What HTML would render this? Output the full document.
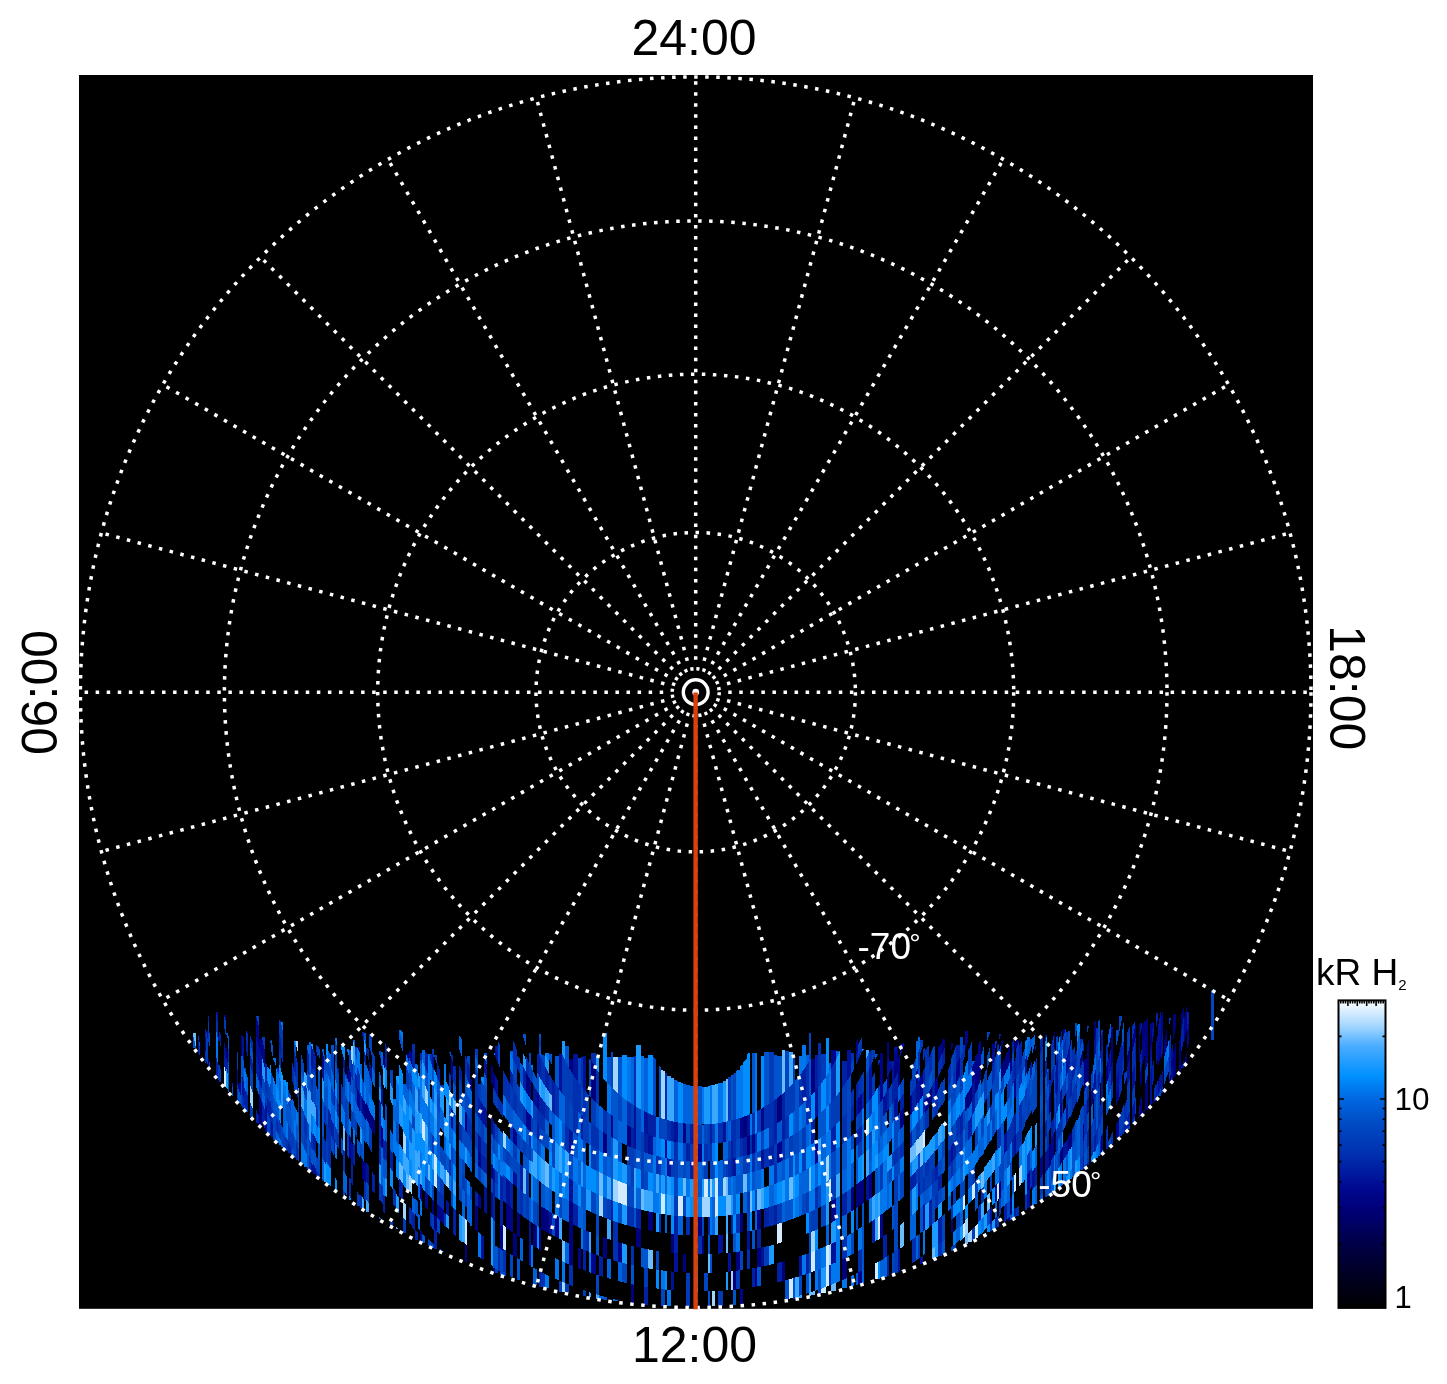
<!DOCTYPE html><html><head><meta charset="utf-8"><title>Polar projection</title>
<style>html,body{margin:0;padding:0;background:#fff}svg{display:block}text{font-family:"Liberation Sans",Arial,Helvetica,sans-serif}</style></head><body>
<svg width="1447" height="1384" viewBox="0 0 1447 1384">
<defs><linearGradient id="cb" x1="0" y1="0" x2="0" y2="1">
<stop offset="0" stop-color="#ffffff"/>
<stop offset="0.08" stop-color="#a8d8ff"/>
<stop offset="0.15" stop-color="#48acff"/>
<stop offset="0.245" stop-color="#0090ff"/>
<stop offset="0.32" stop-color="#0068e0"/>
<stop offset="0.415" stop-color="#0046c0"/>
<stop offset="0.5" stop-color="#0030b0"/>
<stop offset="0.61" stop-color="#000890"/>
<stop offset="0.68" stop-color="#000078"/>
<stop offset="0.79" stop-color="#000048"/>
<stop offset="0.905" stop-color="#000020"/>
<stop offset="1" stop-color="#000000"/>
</linearGradient></defs>
<rect x="0" y="0" width="1447" height="1384" fill="#fff"/>
<rect x="79" y="75" width="1234" height="1233.8" fill="#000"/>
<g shape-rendering="crispEdges"><path fill="#00027d" d="M208 1056.7L209 1060.7V1067L208 1067ZM226 1044.1L228 1052.7V1064.1L226 1056.3ZM241 1034.8L242 1034.8V1057.9L241 1053.9ZM259 1039.2L262 1039.2V1058.1L259 1046ZM259 1094L262 1102.5V1122.6L259 1115.2ZM259 1115.2L262 1122.6V1126.2L259 1126.2ZM347 1064.9L349 1071.1V1083.6L347 1078.1ZM357 1046.5L360 1046.5V1052.7L357 1046.5ZM362 1158.4L364 1161.6V1181L362 1178.1ZM364 1100.3L366 1104.8V1120.7L364 1116.6ZM366 1102L369 1108.7V1124.1L366 1118.1ZM369 1110L372 1116.3V1131L369 1125.4ZM372 1115.3L375 1121.3V1135.6L372 1130.1ZM381 1125.5L383 1129.2V1149.2L381 1145.9ZM383 1055.3L385 1058.3V1069.5L383 1063.5ZM432 1199.1L434 1201.3V1215.5L432 1213.4ZM434 1214.4L437 1217.4V1231.9L434 1229ZM465 1110.7L467 1114V1132.3L465 1129.4ZM465 1243.8L467 1245.4V1262L465 1262ZM470 1079L472 1079V1092.1L470 1088.2ZM475 1204.2L478 1206.9V1232.3L475 1229.9ZM491 1063.7L493 1068.4V1085.6L491 1081.8ZM493 1070.7L495 1075V1091.2L493 1087.5ZM493 1267.2L495 1268.5V1272.5L493 1272.5ZM506 1203.2L510 1206.4V1230.4L506 1227.5ZM513 1232.4L517 1235.1V1257.8L513 1255.3ZM517 1211.9L520 1214V1237.3L517 1235.3ZM526 1072L529 1077.6V1096.8L526 1092.2ZM533 1223.4L537 1226V1248.1L533 1245.8ZM539 1227.6L541 1228.8V1250.8L539 1249.7ZM541 1206.2L545 1208.8V1231.1L541 1228.8ZM545 1208.8L549 1211.3V1233.4L545 1231.2ZM569 1058.8L573 1058.8V1074.5L569 1067.9ZM569 1200.8L573 1203V1224.5L569 1222.5ZM569 1222.5L573 1224.5V1245.4L569 1243.6ZM569 1243.6L573 1245.4V1266L569 1264.3ZM591 1060.2L596 1068.4V1102.3L591 1097.3ZM603 1131.9L607 1134.5V1155.4L603 1153.1ZM603 1237.2L607 1238.6V1258.4L603 1257.1ZM627 1125.1L631 1127.2V1147.2L627 1145.4ZM631 1284.1L634 1284.7V1303.2L631 1303.1ZM636 1227.7L641 1228.9V1248L636 1246.9ZM648 1211.3L653 1212.3V1231.3L648 1230.4ZM671 1234L674 1234.3V1253L671 1252.7ZM683 1123.3L686 1123.7V1143.3L683 1143ZM683 1253.7L686 1253.8V1272.5L683 1272.3ZM698 1217H702V1235.6H698ZM702 1235.6H704V1254.2H702ZM733 1271.1L736 1270.7V1289.5L733 1289.8ZM736 1252L740 1251.4V1270.2L736 1270.7ZM740 1213.7L743 1213.2V1232.1L740 1232.6ZM743 1117L747 1115.5V1136.6L743 1137.9ZM747 1136.6L750 1135.6V1154.4L747 1155.2ZM755 1267.9L757 1267.6V1286.5L755 1286.9ZM757 1248.6L761 1247.7V1266.8L757 1267.6ZM777 1098.2L782 1094.1V1120.1L777 1123.1ZM782 1261.8L785 1261V1280.4L782 1281.2ZM811 1058.5L815 1058.5V1091.4L811 1095.9ZM842 1259.6L847 1257.1V1278.1L842 1280.3ZM851 1188.5L854 1186.4V1209.6L851 1211.5ZM856 1184.8L858 1183.3V1206.8L856 1208.1ZM858 1183.3L862 1180.3V1204.1L858 1206.8ZM862 1180.5L864 1178.9V1202.9L862 1204.3ZM869 1175.2L872 1172.7V1197.4L869 1199.6ZM880 1053.4L883 1053.4V1054.6L880 1061.8ZM887 1042.2L889 1042.2V1057L887 1061.8ZM887 1077.7L889 1073.8V1088.1L887 1091.5ZM894 1068.2L898 1058.9V1071.8L894 1079.9ZM898 1071.9L900 1067.6V1084.5L898 1088.2ZM900 1112.9L904 1106.9V1124.6L900 1129.8ZM910 1097.1L912 1093.7V1113.2L910 1116.1ZM929 1092.4L932 1086.5V1101.3L929 1106.4ZM942 1039L945 1039V1046L942 1055.3ZM951 1043.3L953 1043.3V1045.1L951 1051.6ZM951 1220.5L953 1218.6V1231.9L951 1233.7ZM965 1097.8L968 1091.6V1106.8L965 1112.3ZM968 1093.5L972 1084.8V1100.9L968 1108.6ZM975 1076.9L978 1069.2V1087.5L975 1094ZM978 1067.6L981 1059.1V1079.1L978 1086.1ZM999 1183.2L1001 1180.6V1197.6L999 1200ZM1001 1040.7L1004 1040.7V1040.7L1001 1050.2ZM1001 1067.3L1004 1058.3V1074.3L1001 1082ZM1004 1061.1L1007 1051.5V1068.5L1004 1076.7ZM1007 1054L1010 1043.4V1062L1007 1070.7ZM1007 1220L1010 1216.5V1221.1L1007 1221.1ZM1010 1199L1012 1196.5V1213.1L1010 1215.4ZM1014 1043.8L1016 1038V1046.5L1014 1053.6ZM1016 1040.1L1019 1040.1V1040.1L1016 1049.3ZM1049 1097L1051 1092V1110.6L1049 1115ZM1049 1146.4L1051 1142.9V1164.2L1049 1167.4ZM1054 1033.2L1055 1031.2V1047L1054 1050.8ZM1055 1129.7L1056 1127.7V1150.7L1055 1152.4ZM1060 1151.5L1062 1147.9V1162.3L1060 1165.7ZM1062 1148L1063 1146.2V1160.7L1062 1162.4ZM1068 1136.6L1070 1132.7V1148.3L1068 1151.9ZM1070 1134.8L1072 1130.7V1146.5L1070 1150.2ZM1080 1060.1L1083 1049V1059.6L1080 1069.7ZM1084 1058.9L1087 1058.9V1066.2L1084 1075.8ZM1084 1075.8L1087 1066.2V1084.1L1084 1092.4ZM1087 1046.8L1089 1038.4V1060.8L1087 1067.6ZM1087 1067.6L1089 1060.8V1079.4L1087 1085.2ZM1094 1021L1096 1021V1033.1L1094 1042.1ZM1106 1067.3L1108 1060.3V1079.5L1106 1085.5ZM1111 1034.3L1113 1027.2V1038.3L1111 1046.9ZM1111 1046.9L1113 1038.3V1061.3L1111 1068.3ZM1127 1057.4L1130 1045.3V1056.9L1127 1067.8ZM1132 1041.4L1135 1026.8V1040.8L1132 1053.4ZM1135 1025.9L1136 1024V1035.3L1135 1039.9ZM1139 1024L1140 1023.6V1041.7L1139 1046.1ZM1139 1046.1L1140 1041.7V1060.5L1139 1064.2ZM1140 1072.7L1142 1065.7V1081.3L1140 1087.5ZM1142 1026.6L1145 1020.4V1034.6L1142 1048.1ZM1142 1113.2L1145 1108.8V1113.2L1142 1113.2ZM1145 1023.2L1148 1016.7V1027.6L1145 1042.2ZM1145 1042.2L1148 1027.6V1045.8L1145 1058.1ZM1145 1058.1L1148 1045.8V1061.2L1145 1072ZM1145 1084.6L1148 1074.9V1098.7L1145 1107ZM1145 1107L1148 1098.7V1110L1145 1110ZM1150 1039.6L1152 1029.9V1043.6L1150 1052.1ZM1164 1042.3L1167 1027.5V1046L1164 1058.4ZM1169 1080.4L1171 1073.7V1083.2L1169 1083.2ZM1171 1063.2L1173 1055.4V1066.5L1171 1073.7ZM1173 1013.5L1176 1013.5V1013.5L1173 1027.4ZM1173 1027.4L1176 1013.5V1026.7L1173 1041.7ZM1173 1054.2L1176 1041.1V1053.7L1173 1065.5ZM1173 1065.5L1176 1053.7V1075.4L1173 1077.7ZM1179 1043.4L1181 1033.8V1059.3L1179 1067ZM1181 1016L1184 1006.2V1015.1L1181 1032.2ZM1184 1062.9L1187 1050.7V1063.6L1184 1063.6Z"/><path fill="#00068b" d="M205 1035.5L206 1040.4V1053.3L205 1049ZM224 1014.8L226 1014.8V1021.9L224 1014.8ZM237 1067.7L238 1071.3V1086.7L237 1083.5ZM238 1082.9L241 1082.9V1096.1L238 1087ZM256 1015.8L259 1027.1V1048.5L256 1035ZM262 1038.2L265 1051.2V1068.4L262 1057.5ZM265 1122.1L267 1126.9V1131.6L265 1131.6ZM322 1050.4L324 1057.7V1070.6L322 1064.1ZM349 1067.7L351 1073.7V1085.9L349 1080.5ZM349 1134.4L351 1138.2V1159.9L349 1156.5ZM357 1087.3L360 1094.8V1111.8L357 1105.2ZM362 1096.5L364 1101.2V1117.4L362 1113.3ZM364 1160.9L366 1164.1V1183.3L364 1180.4ZM406 1054.1L409 1054.1V1061.9L406 1054.1ZM409 1049.3L412 1052V1065.4L409 1056.5ZM420 1183.6L422 1186V1201.1L420 1198.8ZM420 1229.4L422 1231.4V1241.8L420 1241.8ZM425 1191.3L428 1194.8V1209.3L425 1206.1ZM437 1203.6L440 1206.7V1220.6L437 1217.6ZM440 1206.8L444 1210.8V1224.4L440 1220.6ZM451 1056.9L453 1062.5V1080.8L451 1076.2ZM478 1149.9L481 1153.5V1168.3L478 1165.1ZM478 1193.3L481 1196.1V1209.2L478 1206.6ZM491 1163.8L493 1165.9V1179.8L491 1177.9ZM500 1225.3L503 1227.5V1251L500 1248.9ZM510 1206.6L513 1208.9V1232.6L510 1230.5ZM513 1127.4L517 1132.2V1146.9L513 1142.6ZM526 1109.7L529 1113.6V1130.3L526 1126.9ZM529 1077.4L531 1080.9V1099.4L529 1096.5ZM529 1113.3L531 1115.9V1132.3L529 1130.1ZM537 1090.9L539 1093.8V1110.3L537 1107.8ZM555 1214.8L559 1217.1V1238.7L555 1236.6ZM578 1247.6L581 1248.9V1269.2L578 1268ZM591 1252.9L596 1254.7V1274.6L591 1272.9ZM611 1114.8L613 1116.3V1138.1L611 1136.9ZM618 1242.2L622 1243.3V1262.7L618 1261.7ZM665 1139.8L667 1140.3V1158.4L665 1158ZM698 1144H702V1161.6H698ZM740 1118L743 1117V1137.9L740 1138.7ZM740 1289L743 1288.6V1304.8L740 1304.8ZM752 1134.9L755 1133.8V1152.8L752 1153.7ZM757 1210.3L761 1209.3V1228.6L757 1229.5ZM761 1108.8L764 1107.1V1129.9L761 1131.3ZM777 1143.8L782 1141.2V1161.2L777 1163.4ZM815 1141.9L818 1139.7V1162.6L815 1164.4ZM831 1050.2L836 1050.2V1059.7L831 1069ZM831 1201.2L836 1198.2V1220.2L831 1222.8ZM856 1043.3L858 1037.1V1050L856 1054.9ZM858 1098.9L862 1093.3V1109.9L858 1114.7ZM858 1272.5L862 1270.5V1284.2L858 1284.2ZM880 1061.8L883 1054.6V1078.9L880 1084.3ZM880 1084.3L883 1078.9V1098.6L880 1103ZM880 1215.6L883 1213.4V1236.8L880 1238.7ZM894 1054.9L898 1047.2V1058.9L894 1068.2ZM898 1059L900 1053.9V1067.6L898 1071.9ZM916 1072.1L918 1067.5V1081.1L916 1085.1ZM920 1078.1L923 1071.5V1094.9L920 1100.2ZM925 1100.4L929 1093.2V1107.1L925 1113.6ZM935 1081.7L938 1075.1V1091.3L935 1097ZM938 1047.9L942 1042.8V1052.8L938 1063.9ZM956 1066.8L960 1055.6V1075.5L956 1084.7ZM965 1031.4L968 1031.1V1041.3L965 1051.6ZM972 1066.9L975 1061.3V1078.3L972 1085.3ZM975 1056.7L978 1052.9V1069.2L975 1076.9ZM978 1045L981 1039.8V1059.1L978 1067.6ZM992 1044.3L995 1043.3V1046.7L992 1056.7ZM1010 1062.9L1012 1056.6V1069.9L1010 1075.5ZM1014 1082.8L1016 1077.6V1095.8L1014 1100.3ZM1027 1174.9L1030 1170.4V1189L1027 1193.1ZM1040 1159.2L1043 1154.2V1174.3L1040 1178.8ZM1051 1139.1L1054 1133.5V1155.8L1051 1160.8ZM1060 1107L1062 1102.3V1115.9L1060 1120.2ZM1063 1029.1L1066 1029.1V1029.1L1063 1037.1ZM1083 1125.3L1084 1123.2V1139.9L1083 1141.8ZM1091 1092.6L1093 1087V1102.7L1091 1107.6ZM1101 1137.2L1103 1133V1149.5L1101 1153.3ZM1116 1093.7L1119 1085.1V1098.4L1116 1106.3ZM1116 1125.4L1119 1118.4V1136.4L1116 1139.2ZM1140 1100.9L1142 1095.3V1115.8L1140 1115.8ZM1142 1048.1L1145 1034.6V1054.6L1142 1066ZM1150 1025.3L1152 1021.8V1029.9L1150 1039.6ZM1152 1022L1154 1022V1022L1152 1030.4ZM1152 1102.9L1154 1097.6V1102.9L1152 1102.9ZM1158 1048.6L1161 1034.9V1055.2L1158 1066.7ZM1161 1016.2L1163 1011.1V1030.7L1161 1040.4ZM1179 1067L1181 1059.3V1070.7L1179 1070.7ZM1184 1019.9L1187 1004.8V1028.8L1184 1043.7ZM1187 1032.3L1189 1021.3V1041.3L1187 1050.3Z"/><path fill="#001298" d="M198 1037.8L199 1042.6V1053.7L198 1053.7ZM206 1031L208 1031V1040.7L206 1031ZM216 1012.2L218 1012.2V1024.3L216 1012.2ZM218 1036.4L219 1036.4V1043L218 1038.2ZM224 1041.1L226 1050.1V1061.7L224 1053.7ZM242 1035.4L244 1038V1062.1L242 1054.3ZM242 1075.6L244 1082.2V1099.8L242 1094ZM256 1035L259 1048.5V1066.3L256 1055ZM259 1046L262 1058.1V1074.5L259 1064.1ZM259 1064.1L262 1074.5V1089.1L259 1079.9ZM265 1102.1L267 1107.4V1126.9L265 1122.1ZM270 1133.4L271 1135.6V1135.9L270 1135.9ZM271 1120.8L273 1125.5V1137.4L271 1137.4ZM311 1044.4L313 1050.7V1070.8L311 1064.2ZM311 1162.1L313 1165.6V1172.2L311 1172.2ZM313 1163.6L316 1168.8V1174.2L313 1174.2ZM322 1064.1L324 1070.6V1082.1L322 1076.3ZM337 1067.9L339 1067.9V1074.1L337 1067.9ZM343 1054.8L345 1061.6V1073L343 1066.9ZM351 1141.6L353 1145.2V1166.2L351 1163ZM366 1162.1L369 1166.7V1185.6L366 1181.3ZM369 1060.8L372 1070V1082.2L369 1074ZM381 1085.1L383 1090V1106.8L381 1102.5ZM432 1052.5L434 1058.6V1070.8L432 1065.5ZM446 1199.5L449 1202.6V1216.3L446 1213.4ZM451 1107.3L453 1110.8V1129.9L451 1126.8ZM478 1133.7L481 1137.6V1153.5L478 1149.9ZM481 1101.5L484 1106.4V1124.8L481 1120.5ZM481 1234.4L484 1236.7V1260.6L481 1258.4ZM484 1057.2L487 1064.8V1078.6L484 1072.2ZM484 1106.1L487 1110.8V1128.6L484 1124.5ZM484 1185.2L487 1188.1V1214.1L484 1211.6ZM491 1116.2L493 1119.1V1135.9L491 1133.3ZM491 1191.4L493 1193.2V1218.6L491 1217ZM493 1167.2L495 1169.3V1182.9L493 1181ZM495 1046L498 1053.8V1063.3L495 1055.7ZM495 1075L498 1081.1V1096.4L495 1091.2ZM506 1177.6L510 1181.2V1206.4L506 1203.2ZM513 1170.6L517 1174.3V1187.1L513 1183.7ZM529 1220.6L531 1221.9V1244.4L529 1243.2ZM529 1243.2L531 1244.4V1266.3L529 1265.2ZM533 1084.7L537 1091V1107.9L533 1102.6ZM549 1211.3L552 1213.1V1235.1L549 1233.4ZM559 1054.1L562 1054.1V1093.2L559 1089.2ZM569 1128.5L573 1132V1156L569 1153.1ZM569 1178.4L573 1180.9V1203L569 1200.8ZM573 1054.1L578 1054.1V1081.8L573 1074.5ZM583 1055.7L586 1055.7V1091.9L583 1088.3ZM634 1105.5L636 1106.7V1129.7L634 1128.7ZM634 1128.7L636 1129.7V1149.3L634 1148.5ZM644 1111.1L648 1113V1134.7L644 1133.1ZM648 1134.7L653 1136.4V1155L648 1153.6ZM667 1158.4L671 1159.1V1176.8L667 1176.2ZM671 1271.4L674 1271.7V1290.4L671 1290.1ZM674 1121.7L678 1122.5V1142.3L674 1141.7ZM674 1253L678 1253.3V1272L674 1271.7ZM718 1235L723 1234.6V1253.3L718 1253.7ZM723 1122.4L726 1121.8V1141.8L723 1142.3ZM728 1252.9L731 1252.6V1271.3L728 1271.6ZM733 1158.5L736 1157.9V1175.7L733 1176.3ZM747 1115.5L750 1114.2V1135.6L747 1136.6ZM747 1231.5L750 1230.9V1249.9L747 1250.4ZM761 1150.7L764 1149.5V1168.4L761 1169.4ZM761 1247.7L764 1247.1V1266.2L761 1266.8ZM799 1256.6L802 1255.6V1275.4L799 1276.4ZM815 1091.4L818 1087.8V1115.8L815 1118.5ZM831 1243.8L836 1241.5V1262.3L831 1264.5ZM847 1049.8L851 1049.8V1074.5L847 1081.1ZM856 1101.7L858 1099V1114.8L856 1117.1ZM866 1177.3L869 1174.9V1199.4L866 1201.5ZM869 1069.3L872 1063V1077.8L869 1083ZM869 1083L872 1077.8V1096.9L869 1101.2ZM883 1098L887 1091.6V1111.5L883 1116.8ZM887 1061.8L889 1057V1073.8L887 1077.7ZM889 1061.1L892 1061.1V1068L889 1074.2ZM892 1068.2L894 1063.7V1079.6L892 1083.4ZM894 1047.2L898 1047.2V1047.2L894 1054.9ZM894 1101.8L898 1095.4V1115.5L894 1120.9ZM898 1249.8L900 1248.5V1271.3L898 1271.9ZM900 1044.5L904 1043.1V1045.8L900 1057ZM916 1085.1L918 1081.1V1102.7L916 1105.9ZM918 1082.3L920 1078.2V1100.3L918 1103.7ZM920 1257.8L923 1255.6V1263.6L920 1263.6ZM923 1205.6L925 1203.7V1229.5L923 1231.1ZM951 1146.4L953 1143.6V1160.2L951 1162.7ZM972 1085.3L975 1078.3V1095.2L972 1101.4ZM990 1209.1L992 1206.8V1222.4L990 1224.5ZM992 1056.7L995 1046.7V1058.8L992 1067.6ZM995 1185.8L997 1183.2V1200L995 1202.3ZM1004 1135.5L1007 1130.3V1149.8L1004 1154.4ZM1014 1137.2L1016 1133.7V1153.3L1014 1156.4ZM1025 1061L1027 1054.4V1071.5L1025 1077.1ZM1027 1193.1L1030 1189V1206.6L1027 1208.7ZM1032 1172L1035 1167.5V1186.4L1032 1190.6ZM1035 1045.7L1037 1045.7V1045.7L1035 1051ZM1045 1034.8L1047 1034.8V1034.8L1045 1043.1ZM1045 1153.4L1047 1149.9V1170.6L1045 1173.7ZM1047 1149.8L1049 1146.3V1167.3L1047 1170.4ZM1056 1064.1L1058 1057.4V1069.2L1056 1075.2ZM1056 1075.2L1058 1069.2V1091.1L1056 1096.1ZM1060 1092.7L1062 1087.4V1102.3L1060 1107ZM1063 1146.3L1066 1140.7V1155.7L1063 1160.9ZM1066 1059.5L1068 1052.4V1071.8L1066 1077.7ZM1066 1108.1L1068 1103.3V1121.3L1066 1125.5ZM1066 1141.5L1068 1137.7V1152.9L1066 1156.4ZM1068 1050.5L1070 1042.6V1063.7L1068 1070.2ZM1087 1100.9L1089 1095.8V1110.5L1087 1115.2ZM1094 1042.1L1096 1033.1V1052.5L1094 1059.9ZM1094 1075.2L1096 1068.8V1083.2L1094 1088.9ZM1100 1050.5L1101 1050.5V1056.6L1100 1060.2ZM1101 1036.6L1103 1030.2V1044.5L1101 1052.5ZM1101 1078.7L1103 1072.5V1095.3L1101 1100.6ZM1108 1060.1L1111 1048.6V1069.7L1108 1079.3ZM1111 1027.2L1113 1027.2V1027.2L1111 1034.3ZM1111 1068.3L1113 1061.3V1080.4L1111 1086.4ZM1116 1080.1L1119 1070.4V1085.1L1116 1093.7ZM1127 1067.8L1130 1056.9V1077.1L1127 1086.4ZM1132 1074.2L1135 1063.8V1083.1L1132 1092.1ZM1132 1108.2L1135 1100.1V1115.5L1132 1122.9ZM1139 1106.9L1140 1104.3V1117.4L1139 1117.4ZM1140 1022.7L1142 1022.7V1026.2L1140 1036.3ZM1150 1052.1L1152 1043.6V1055.6L1150 1063.3ZM1150 1073.5L1152 1066.5V1085.9L1150 1091.9ZM1150 1091.9L1152 1085.9V1103L1150 1105.1ZM1152 1030.4L1154 1022V1034.7L1152 1044ZM1156 1042.9L1158 1033.5V1058.6L1156 1066.1ZM1158 1026.8L1161 1008.7V1034.9L1158 1048.6ZM1158 1082.4L1161 1072.4V1087.7L1158 1095.5ZM1161 1040.4L1163 1030.7V1051.8L1161 1059.8ZM1161 1076.4L1163 1069.5V1085.1L1161 1091.3ZM1171 1051.7L1173 1043V1055.4L1171 1063.2ZM1171 1073.7L1173 1066.5V1080.7L1171 1080.7ZM1181 1067.5L1184 1059.9V1067.5L1181 1067.5Z"/><path fill="#0021a4" d="M205 1029.3L206 1029.3V1040.4L205 1035.5ZM208 1015.9L209 1015.9V1025.2L208 1019.3ZM216 1055.7L218 1063.6V1077.8L216 1077.3ZM219 1031.4L221 1034.5V1047.9L219 1038.7ZM224 1053.7L226 1061.7V1072.4L224 1065.1ZM226 1056.3L228 1064.1V1074.6L226 1067.4ZM232 1082.7L233 1082.7V1088.8L232 1085.7ZM237 1097.8L238 1100.6V1101.9L237 1101.9ZM244 1086.1L246 1092.2V1108.7L244 1103.3ZM246 1037.5L248 1046.6V1058.3L246 1050.3ZM246 1090.8L248 1096.7V1112.2L246 1107.5ZM250 1053.6L253 1065V1075.1L250 1064.6ZM256 1055L259 1066.3V1081.8L256 1071.9ZM256 1109L259 1116.7V1123.1L256 1123.1ZM262 1102L265 1110V1129.1L262 1122.2ZM265 1061.8L267 1065.2V1080.7L265 1074.2ZM267 1096.5L270 1104.7V1119.6L267 1112.2ZM270 1099.3L271 1102V1117.2L270 1114.7ZM279 1031.2L281 1040.6V1056.3L279 1048.4ZM288 1140.8L291 1146.9V1153.4L288 1153.4ZM294 1050L296 1057.6V1077.1L294 1070.7ZM307 1048.3L309 1055.9V1075.3L307 1069ZM313 1046.7L316 1057.8V1076.7L313 1067.3ZM313 1132.5L316 1138.6V1154.2L313 1148.5ZM316 1170.2L318 1173.6V1176.2L316 1176.2ZM328 1108L331 1114.9V1131.8L328 1125.6ZM331 1118.6L334 1125V1141L331 1135.2ZM334 1089.1L335 1091.2V1105.8L334 1103.4ZM334 1137.7L335 1139.6V1154.6L334 1152.8ZM337 1100.1L339 1104.9V1118.3L337 1113.9ZM351 1163L353 1166.2V1185.7L351 1182.7ZM353 1142.3L355 1145.9V1166.8L353 1163.6ZM355 1071.2L357 1076.9V1091.5L355 1086.4ZM360 1092.2L362 1097.1V1113.8L360 1109.5ZM362 1031.7L364 1031.7V1042.7L362 1034.3ZM364 1050L366 1057V1066.9L364 1060.7ZM366 1047.3L369 1048.8V1061.2L366 1051.1ZM372 1171.5L375 1175.9V1194L372 1190ZM379 1098.6L381 1103V1125.9L379 1122.1ZM379 1122.1L381 1125.9V1146.3L379 1143ZM383 1138.3L385 1141.7V1160.7L383 1157.6ZM383 1194.4L385 1196.9V1213.7L383 1211.3ZM385 1040.8L387 1048.3V1060.5L385 1054ZM385 1054L387 1060.5V1071.4L385 1065.6ZM385 1139.3L387 1142.7V1161.5L385 1158.4ZM390 1149.2L393 1153.9V1171.7L390 1167.4ZM399 1178.4L403 1183.6V1200.4L399 1195.5ZM412 1048.6L415 1058.3V1073.8L412 1065.7ZM412 1211.8L415 1215.1V1230.2L412 1227.1ZM415 1229.1L418 1232.1V1239.5L415 1239.5ZM425 1051.8L428 1054.1V1074.7L425 1066.9ZM434 1229L437 1231.9V1245.9L434 1243.2ZM434 1243.2L437 1245.9V1248.8L434 1248.8ZM437 1062L440 1070V1083.5L437 1076.5ZM453 1066.4L456 1066.4V1070.4L453 1066.4ZM453 1207.4L456 1210.3V1236.5L453 1233.9ZM459 1064.5L462 1072V1084.7L459 1078.2ZM467 1060.3L470 1067.9V1084.8L467 1078.5ZM475 1190.7L478 1193.6V1206.9L475 1204.2ZM478 1096.3L481 1101.6V1120.6L478 1116.1ZM481 1153.4L484 1156.9V1171.5L481 1168.3ZM484 1156.6L487 1160V1174.3L484 1171.2ZM493 1120.6L495 1123.4V1139.7L493 1137.3ZM493 1181L495 1182.9V1196.1L493 1194.4ZM493 1194.4L495 1196.1V1221.3L493 1219.7ZM495 1046L498 1046V1053.8L495 1046ZM500 1174.3L503 1177.2V1203.1L500 1200.6ZM500 1200.6L503 1203.1V1227.5L500 1225.3ZM510 1069.4L513 1075.5V1089.5L510 1084.3ZM510 1181.3L513 1184V1208.9L510 1206.6ZM520 1164L523 1166.8V1192.2L520 1189.8ZM523 1065.6L526 1071.8V1092L523 1087.2ZM537 1053.6L539 1053.6V1075.3L537 1071.6ZM537 1123.1L539 1125.4V1140.7L537 1138.7ZM539 1053.4L541 1058.1V1079.7L539 1076.2ZM539 1094.6L541 1097.5V1113.5L539 1111ZM539 1271.2L541 1272.2V1286.5L539 1286.5ZM541 1097.4L545 1102.7V1118.1L541 1113.4ZM545 1066.4L549 1073.8V1091.9L545 1086ZM552 1078.8L555 1083.5V1114.6L552 1111.2ZM573 1203L578 1205.7V1226.9L573 1224.5ZM581 1114.3L583 1116.1V1140L581 1138.5ZM583 1249.7L586 1250.9V1271.1L583 1269.9ZM599 1255.8L603 1257.1V1276.8L599 1275.5ZM611 1200L613 1200.8V1220.8L611 1220.1ZM631 1127.2L634 1128.7V1148.5L631 1147.2ZM636 1208.3L641 1209.6V1228.9L636 1227.7ZM644 1133.1L648 1134.7V1153.6L644 1152.2ZM644 1286.6L648 1287.2V1304.5L644 1304.5ZM648 1113L653 1115.2V1136.4L648 1134.7ZM653 1115.2L656 1116.4V1137.4L653 1136.4ZM671 1121L674 1121.7V1141.7L671 1141.1ZM674 1215.6L678 1216V1234.7L674 1234.3ZM674 1234.3L678 1234.7V1253.3L674 1253ZM686 1143.3L690 1143.6V1161.3L686 1161ZM690 1124.1L694 1124.3V1143.9L690 1143.6ZM690 1161.3L694 1161.5V1178.9L690 1178.7ZM694 1216.9L698 1217V1235.6L694 1235.5ZM708 1216.9L710 1216.8V1235.4L708 1235.5ZM710 1124.1L712 1124V1143.5L710 1143.7ZM731 1140.9L733 1140.4V1158.5L731 1158.9ZM731 1158.9L733 1158.5V1176.3L731 1176.6ZM731 1215.1L733 1214.8V1233.6L731 1233.8ZM743 1137.9L747 1136.6V1155.2L743 1156.3ZM752 1268.5L755 1267.9V1286.9L752 1287.3ZM757 1229.5L761 1228.6V1247.7L757 1248.6ZM764 1208.5L769 1207.1V1226.5L764 1227.8ZM769 1147.5L774 1145.2V1164.6L769 1166.6ZM774 1100.5L777 1098.2V1123.1L774 1124.8ZM774 1124.8L777 1123.1V1143.8L774 1145.2ZM774 1205.5L777 1204.6V1224.3L774 1225.2ZM777 1263.1L782 1261.8V1281.2L777 1282.4ZM782 1094.1L785 1091.4V1118.1L782 1120.1ZM782 1120.1L785 1118.1V1139.6L782 1141.2ZM802 1072.2L806 1066.3V1101L802 1104.7ZM806 1254.2L809 1253.1V1273.1L806 1274.1ZM811 1121.9L815 1118.5V1141.9L811 1144.7ZM815 1055.3L818 1055.3V1087.8L815 1091.4ZM831 1129.1L836 1124.4V1149.7L831 1153.5ZM842 1060.6L847 1060.6V1081.2L842 1088.6ZM842 1194.5L847 1191.3V1213.9L842 1216.8ZM851 1108.2L854 1104.5V1119.6L851 1122.8ZM856 1054.9L858 1050V1060.6L856 1064.8ZM856 1084.7L858 1081.5V1099L856 1101.7ZM856 1131.4L858 1129.3V1144.3L856 1146.1ZM858 1129.3L862 1125V1140.4L858 1144.2ZM862 1093.6L864 1090.6V1107.6L862 1110.1ZM872 1220.9L875 1218.9V1241.7L872 1243.6ZM883 1236.4L887 1233.7V1256.5L883 1258.9ZM887 1091.5L889 1088.1V1108.5L887 1111.3ZM887 1256.4L889 1255.2V1275.7L887 1275.7ZM892 1060.9L894 1060.9V1063.7L892 1068.2ZM892 1083.4L894 1079.6V1101.6L892 1104.7ZM894 1079.9L898 1071.8V1095.4L894 1101.8ZM900 1099.5L904 1092.8V1106.9L900 1112.9ZM910 1133.3L912 1130.6V1146.6L910 1149ZM910 1177.8L912 1175.8V1189.5L910 1191.4ZM912 1093.4L916 1086V1106.7L912 1112.9ZM912 1175.6L916 1171.6V1185.5L912 1189.3ZM918 1183.7L920 1181.7V1195.3L918 1197.2ZM923 1071.1L925 1066.4V1083.3L923 1087.3ZM923 1101.6L925 1098.1V1111.5L923 1114.6ZM929 1201.1L932 1198.2V1224.5L929 1227.1ZM932 1086.3L935 1080V1095.6L932 1101ZM935 1167.3L938 1163.8V1178.7L935 1182ZM938 1177.7L942 1173.2V1187.8L938 1192ZM938 1219L942 1215.4V1241.2L938 1244.6ZM942 1055.3L945 1046V1062.6L942 1070.2ZM948 1151.9L951 1147.9V1164.1L948 1167.8ZM953 1144L956 1139.8V1156.7L953 1160.6ZM956 1044.8L960 1044.8V1055.6L956 1066.8ZM960 1116.7L963 1111.4V1131.2L960 1135.8ZM968 1122.3L972 1115.4V1135L968 1141.2ZM972 1101.4L975 1095.2V1110.4L972 1115.8ZM995 1218.2L997 1216V1228.2L995 1228.2ZM999 1034.2L1001 1034.2V1034.2L999 1041.3ZM1004 1206.3L1007 1202.7V1218.9L1004 1222.3ZM1012 1043.3L1014 1038.2V1049.3L1012 1056.1ZM1012 1140L1014 1136.6V1155.9L1012 1158.9ZM1014 1062.4L1016 1056V1077.6L1014 1082.8ZM1014 1116L1016 1112V1133.7L1014 1137.2ZM1014 1209.9L1016 1207.5V1217.2L1014 1217.2ZM1019 1046.2L1022 1040.5V1060.7L1019 1069.7ZM1030 1066.9L1032 1060.6V1073.9L1030 1079.4ZM1030 1206.8L1032 1204.3V1207.1L1030 1207.1ZM1035 1168.3L1037 1165.2V1184.4L1035 1187.2ZM1040 1046.6L1043 1038.2V1045.5L1040 1056.3ZM1045 1062.4L1047 1055.7V1073L1045 1078.7ZM1045 1123.3L1047 1119.2V1135.1L1045 1138.9ZM1049 1079.7L1051 1079.7V1079.7L1049 1082.8ZM1049 1082.8L1051 1079.7V1092L1049 1097ZM1051 1074.9L1054 1065.8V1078.9L1051 1087ZM1051 1123.4L1054 1117.1V1133.5L1051 1139.1ZM1055 1073.5L1056 1070.5V1092.1L1055 1094.6ZM1060 1037.9L1062 1028.8V1040.9L1060 1048.8ZM1070 1084.3L1072 1078.6V1094.6L1070 1099.7ZM1072 1067.2L1075 1057V1072.3L1072 1081.2ZM1083 1157.2L1084 1155.3V1168.9L1083 1168.9ZM1084 1167.3L1087 1162.9V1167.3L1084 1167.3ZM1087 1132.6L1089 1128.4V1144.8L1087 1148.7ZM1087 1163.7L1089 1160.1V1165.2L1087 1165.2ZM1093 1084.9L1094 1081.9V1098.1L1093 1100.7ZM1094 1088.9L1096 1083.2V1096.2L1094 1101.4ZM1094 1137.5L1096 1133.4V1149.6L1094 1153.4ZM1098 1076.6L1100 1070.3V1084.6L1098 1090.2ZM1100 1141.6L1101 1139.6V1154.6L1100 1154.6ZM1101 1052.5L1103 1044.5V1059.4L1101 1066.4ZM1106 1045.9L1108 1043.6V1049.4L1106 1057.1ZM1106 1146.5L1108 1142.5V1148.8L1106 1148.8ZM1116 1064.9L1119 1053.9V1070.4L1116 1080.1ZM1119 1053.6L1122 1041.2V1059.7L1119 1070.2ZM1119 1070.2L1122 1059.7V1075.6L1119 1084.9ZM1122 1048.5L1124 1039.9V1055.7L1122 1063.1ZM1124 1126.3L1127 1119.2V1131.5L1124 1131.5ZM1127 1117.9L1130 1110.4V1124.9L1127 1128.6ZM1135 1039.9L1136 1035.3V1059.5L1135 1063.2ZM1140 1055.9L1142 1047.8V1065.7L1140 1072.7ZM1150 1063.3L1152 1055.6V1066.5L1150 1073.5ZM1152 1066.9L1154 1059.4V1079.8L1152 1086.2ZM1156 1013L1158 1013V1017.9L1156 1029.1ZM1156 1085.6L1158 1079.2V1097.1L1156 1098.4ZM1169 1056.5L1171 1048.2V1061.6L1169 1069ZM1181 1032.2L1184 1015.1V1040L1181 1053.4ZM1187 1011.8L1189 1011.8V1021.3L1187 1032.3Z"/><path fill="#0030b0" d="M199 1043.9L200 1048.4V1055L199 1055ZM205 1049L206 1053.3V1063.1L205 1061ZM216 1012.2L218 1024.3V1039.1L216 1029ZM228 1046.6L229 1050.9V1064L228 1060.2ZM242 1094L244 1099.8V1107.9L242 1107.9ZM246 1030.2L248 1033.4V1046.6L246 1037.5ZM250 1035.1L253 1041.9V1054.1L250 1041.3ZM265 1074.2L267 1080.7V1094.6L265 1088.8ZM270 1114.7L271 1117.2V1135.6L270 1133.4ZM271 1105.9L273 1111.1V1125.5L271 1120.8ZM276 1068.1L279 1068.1V1075.1L276 1068.1ZM276 1115.7L279 1122.9V1136.3L276 1129.7ZM279 1048.4L281 1056.3V1070L279 1063.1ZM281 1040.7L283 1049.1V1063.7L281 1056.3ZM286 1137.3L288 1141.5V1151.2L286 1151.2ZM292 1061.5L294 1068.4V1086.4L292 1080.5ZM294 1152.7L296 1156.5V1158.1L294 1158.1ZM296 1056.4L298 1063.6V1082.2L296 1076ZM296 1139.8L298 1143.9V1159.6L296 1155.8ZM296 1155.8L298 1159.6V1159.8L296 1159.8ZM298 1091.5L299 1094.2V1114.1L298 1111.7ZM304 1113.4L307 1120.4V1137.6L304 1131.3ZM309 1155.1L311 1158.7V1170.6L309 1170.6ZM311 1064.2L313 1070.8V1088.1L311 1082.4ZM311 1130.6L313 1134.8V1150.7L311 1146.9ZM316 1105.2L318 1110V1127.8L316 1123.5ZM318 1171.3L320 1174.7V1177.7L318 1177.7ZM322 1178.2L324 1180.8V1180.8L322 1180.8ZM324 1103.4L326 1108.2V1125.9L324 1121.6ZM324 1138.2L326 1142.1V1164.4L324 1161ZM326 1121.8L328 1126V1142.2L326 1138.3ZM326 1181.7L328 1183.8V1183.8L326 1183.8ZM328 1125.6L331 1131.8V1147.5L328 1141.8ZM328 1141.8L331 1147.5V1169.1L328 1164.1ZM334 1089.1L335 1089.1V1091.2L334 1089.1ZM337 1130.7L339 1134.7V1149.9L337 1146.3ZM343 1148.7L345 1152.2V1173L343 1169.8ZM345 1073.7L347 1073.7V1079.4L345 1073.7ZM349 1176.8L351 1179.8V1198.5L349 1195.7ZM351 1058.7L353 1065.2V1081.2L351 1075.6ZM357 1066.7L360 1075.6V1094.8L357 1087.3ZM360 1194.1L362 1196.9V1207.5L360 1207.5ZM364 1180.4L366 1183.3V1201.3L364 1198.6ZM369 1033.9L372 1033.9V1040.5L369 1033.9ZM379 1143L381 1146.3V1166.2L379 1163.2ZM381 1184.3L383 1187V1204.3L381 1201.7ZM393 1187.4L396 1191.3V1207.9L393 1204.3ZM409 1206.8L412 1210.1V1225.5L409 1222.3ZM412 1043.9L415 1043.9V1058.3L412 1048.6ZM420 1052.9L422 1052.9V1065.4L420 1059.6ZM430 1053.3L432 1054.5V1065.3L430 1059.6ZM430 1211.2L432 1213.3V1228L430 1226ZM437 1189.1L440 1192.4V1206.7L437 1203.6ZM440 1192.4L444 1196.8V1210.8L440 1206.8ZM444 1212.2L446 1214.2V1227.7L444 1225.8ZM449 1158.5L451 1161V1176.5L449 1174.2ZM451 1054.7L453 1054.7V1062.5L451 1056.9ZM453 1066.4L456 1070.4V1087.4L453 1081ZM459 1121.3L462 1125.9V1143.3L459 1139.2ZM465 1054.4L467 1059.3V1077.7L465 1073.2ZM467 1114.6L470 1119.3V1137L467 1132.8ZM470 1122L472 1124.9V1142.1L470 1139.4ZM475 1066.9L478 1073.9V1096.9L475 1091.3ZM475 1091.3L478 1096.9V1116.5L475 1111.9ZM481 1137.6L484 1141.4V1156.9L481 1153.4ZM484 1141.1L487 1144.8V1160L484 1156.6ZM498 1096.3L500 1099.6V1113L498 1110ZM498 1247.4L500 1248.8V1271.6L498 1270.4ZM500 1099.8L503 1104.5V1117.4L500 1113.2ZM503 1069.9L506 1076.1V1098.8L503 1093.8ZM503 1174.5L506 1177.4V1203.1L503 1200.6ZM503 1248.7L506 1250.7V1273.3L503 1271.4ZM506 1076.5L510 1084V1105.2L506 1099ZM510 1123.9L513 1127.6V1142.9L510 1139.5ZM513 1039.6L517 1049.9V1067.8L513 1058.7ZM513 1089.2L517 1095.7V1114.9L513 1109.4ZM517 1055.6L520 1058V1074.2L517 1068.1ZM520 1189.8L523 1192.2V1216.2L520 1214.1ZM523 1105.4L526 1109.5V1126.7L523 1123.2ZM526 1056L529 1062.9V1077.6L526 1072ZM529 1130.1L531 1132.3V1147.6L529 1145.7ZM537 1107.8L539 1110.3V1125.4L537 1123.1ZM539 1111L541 1113.5V1128.2L539 1126ZM541 1058L545 1066.4V1086L541 1079.6ZM541 1113.4L545 1118.1V1132.3L541 1128.1ZM541 1272.2L545 1274.2V1287.3L541 1287.3ZM545 1102.8L549 1107.8V1122.5L545 1118.1ZM549 1073.8L552 1078.9V1096.1L549 1091.9ZM555 1083.4L559 1089.2V1118.9L555 1114.6ZM565 1124.8L569 1128.5V1153.1L565 1150ZM569 1264.3L573 1266V1286.3L569 1284.7ZM573 1074.5L578 1081.8V1111.4L573 1106.2ZM573 1106.2L578 1111.4V1136.2L573 1132ZM578 1081.8L581 1085.8V1114.3L578 1111.4ZM581 1057.2L583 1057.2V1088.3L581 1085.8ZM583 1088.3L586 1091.9V1118.8L583 1116.1ZM586 1230.5L589 1231.8V1252.1L586 1250.9ZM591 1052.5L596 1052.5V1068.4L591 1060.2ZM591 1123L596 1126.9V1148.9L591 1145.7ZM596 1068.4L599 1072.8V1105.1L596 1102.3ZM596 1126.9L599 1129.1V1150.8L596 1148.9ZM603 1108.6L607 1111.8V1134.5L603 1131.9ZM613 1220.8L618 1222.5V1242.2L613 1240.6ZM613 1240.6L618 1242.2V1261.7L613 1260.2ZM627 1100.8L631 1103.5V1127.2L627 1125.1ZM627 1205.7L631 1206.9V1226.4L627 1225.3ZM631 1206.9L634 1207.8V1227.2L631 1226.4ZM631 1245.7L634 1246.4V1265.6L631 1264.9ZM634 1055.9L636 1055.9V1106.7L634 1105.5ZM656 1155.9L659 1156.6V1174.6L656 1173.9ZM659 1213.5L661 1213.8V1232.7L659 1232.4ZM665 1073.2L667 1073.3V1120L665 1119.4ZM667 1120L671 1121V1141.1L667 1140.3ZM674 1141.7L678 1142.3V1160.2L674 1159.6ZM686 1216.6L690 1216.8V1235.4L686 1235.2ZM698 1235.6H702V1254.2H698ZM704 1144L708 1143.8V1161.4L704 1161.6ZM710 1143.7L712 1143.5V1161.2L710 1161.3ZM718 1123.2L723 1122.4V1142.3L718 1143ZM728 1159.4L731 1158.9V1176.6L728 1177ZM731 1120.7L733 1120.1V1140.4L731 1140.9ZM733 1120.1L736 1119.3V1139.7L733 1140.4ZM733 1140.4L736 1139.7V1157.9L733 1158.5ZM736 1214.4L740 1213.7V1232.6L736 1233.2ZM740 1138.7L743 1137.9V1156.3L740 1157ZM747 1250.4L750 1249.9V1268.8L747 1269.3ZM750 1135.6L752 1134.9V1153.7L750 1154.4ZM752 1113.3L755 1111.9V1133.8L752 1134.9ZM752 1153.7L755 1152.8V1171.2L752 1172.1ZM755 1133.8L757 1133V1152.1L755 1152.8ZM764 1107.1L769 1103.9V1127.5L764 1129.9ZM764 1149.5L769 1147.5V1166.6L764 1168.4ZM769 1103.9L774 1100.5V1124.8L769 1127.5ZM769 1127.5L774 1124.8V1145.2L769 1147.5ZM769 1207.1L774 1205.5V1225.2L769 1226.5ZM774 1164.6L777 1163.4V1183.1L774 1184.2ZM782 1141.2L785 1139.6V1159.8L782 1161.2ZM785 1118.1L789 1115.3V1137.3L785 1139.6ZM793 1297.6L795 1297.1V1298.6L793 1298.6ZM799 1076.2L802 1072.2V1104.7L799 1107.4ZM806 1066.3L809 1061.3V1098L806 1101ZM806 1101L809 1098V1123.5L806 1125.8ZM809 1098L811 1095.9V1121.9L809 1123.5ZM815 1188.2L818 1186.6V1208L815 1209.5ZM818 1043L821 1043V1084L818 1087.8ZM829 1265.4L831 1264.5V1284.9L829 1285.7ZM831 1069L836 1059.7V1096.5L831 1102.5ZM842 1118.4L847 1112.9V1140.3L842 1144.7ZM842 1238.4L847 1235.8V1257.1L842 1259.6ZM851 1052.9L854 1052.9V1057.4L851 1063.7ZM851 1092.5L854 1088.1V1104.5L851 1108.2ZM858 1053.1L862 1042.4V1051.2L858 1060.5ZM858 1081.5L862 1074.6V1093.3L858 1098.9ZM858 1251.2L862 1249V1270.5L858 1272.5ZM869 1052.9L872 1049.8V1063L869 1069.3ZM878 1059.7L880 1059.7V1061.8L878 1066.2ZM894 1151.9L898 1147.5V1161.9L894 1165.9ZM900 1145.4L904 1140.8V1155.8L900 1160ZM912 1239.7L916 1236.7V1260.5L912 1263.3ZM918 1053.2L920 1047.2V1064L918 1068.8ZM918 1169.6L920 1167.5V1181.7L918 1183.7ZM923 1049.8L925 1048V1055.8L923 1061.1ZM923 1178.4L925 1176.3V1190.3L923 1192.2ZM925 1051L929 1045.1V1049.5L925 1060.7ZM925 1060.7L929 1049.5V1059.4L925 1069.4ZM925 1113.6L929 1107.1V1125.9L925 1131.5ZM925 1163.4L929 1158.7V1173.7L925 1177.9ZM929 1058.3L932 1049.7V1069.8L929 1076.7ZM932 1169.7L935 1166.3V1181L932 1184.1ZM935 1097L938 1091.3V1112.3L935 1117.2ZM935 1196L938 1193V1206.7L935 1209.5ZM938 1063.9L942 1052.8V1068.1L938 1077.6ZM938 1244.6L942 1241.2V1255.9L938 1255.9ZM948 1070.2L951 1062.5V1080.9L948 1087.4ZM951 1162.7L953 1160.2V1175.9L951 1178.2ZM951 1206.9L953 1204.9V1218.6L951 1220.5ZM953 1074.6L956 1067.1V1085L953 1091.4ZM956 1121L960 1114.3V1133.6L956 1139.5ZM960 1059.4L963 1050.3V1071.4L960 1078.7ZM960 1135.8L963 1131.2V1149.1L960 1153.2ZM963 1044.5L965 1044.5V1055.6L963 1061.4ZM978 1207.1L981 1203.7V1219.1L978 1222.2ZM981 1189.6L984 1186V1201.3L981 1204.7ZM992 1067.6L995 1058.8V1079.3L992 1086.5ZM995 1041L997 1041V1042.5L995 1049.6ZM997 1045.8L999 1044V1048.5L997 1055.2ZM997 1131.2L999 1127.7V1147.3L997 1150.4ZM999 1129.2L1001 1125.7V1145.5L999 1148.6ZM1007 1131.7L1010 1126.3V1146.3L1007 1151.1ZM1010 1124.8L1012 1121V1141.6L1010 1144.9ZM1012 1067.4L1014 1061.4V1081.9L1012 1086.9ZM1012 1119.3L1014 1115.4V1136.6L1012 1140ZM1016 1049.3L1019 1040.1V1048.3L1016 1058.5ZM1016 1058.5L1019 1048.3V1071.4L1016 1079.6ZM1016 1135.1L1019 1129.8V1149.8L1016 1154.6ZM1016 1208.6L1019 1204.9V1215.6L1016 1215.6ZM1019 1069.7L1022 1060.7V1081.6L1019 1089.1ZM1019 1106.1L1022 1099.6V1123L1019 1128.6ZM1019 1128.6L1022 1123V1143.8L1019 1148.8ZM1025 1195.5L1027 1192.9V1210.1L1025 1210.3ZM1030 1170.8L1032 1167.7V1186.5L1030 1189.3ZM1035 1063.2L1037 1056.6V1068.2L1035 1074.1ZM1040 1038.2L1043 1038.2V1038.2L1040 1046.6ZM1047 1072.8L1049 1069.2V1082.6L1047 1087.9ZM1047 1135L1049 1131.2V1146.3L1047 1149.8ZM1051 1046.1L1054 1033.5V1051L1051 1061.5ZM1054 1099L1055 1096.6V1114.8L1054 1117ZM1055 1113.1L1056 1110.8V1127.7L1055 1129.7ZM1056 1051.6L1058 1044V1057.4L1056 1064.1ZM1056 1096.1L1058 1091.1V1110L1056 1114.4ZM1056 1131L1058 1127V1150.1L1056 1153.7ZM1058 1124.7L1060 1120.6V1136.8L1058 1140.6ZM1060 1120.2L1062 1115.9V1132.5L1060 1136.4ZM1062 1102.4L1063 1100V1113.7L1062 1115.9ZM1063 1048.1L1066 1035.8V1058.2L1063 1068.1ZM1066 1032.3L1068 1032.3V1032.3L1066 1037.5ZM1066 1093.7L1068 1088.4V1103.3L1066 1108.1ZM1068 1070.2L1070 1063.7V1081.5L1068 1087ZM1068 1087L1070 1081.5V1097.1L1068 1102.1ZM1070 1067L1072 1060.4V1078.6L1070 1084.3ZM1072 1051.2L1075 1046.5V1057L1072 1067.2ZM1072 1093.9L1075 1085.9V1106L1072 1113ZM1075 1056.3L1077 1048.9V1065.3L1075 1071.7ZM1075 1085.4L1077 1079.7V1100.6L1075 1105.5ZM1080 1038.9L1083 1038.9V1038.9L1080 1049.5ZM1083 1042.8L1084 1042.8V1049.5L1083 1053.3ZM1083 1063.5L1084 1060.1V1084.3L1083 1087.1ZM1083 1141.8L1084 1139.9V1155.3L1083 1157.2ZM1084 1107.3L1087 1099.9V1114.2L1084 1121ZM1084 1121L1087 1114.2V1131.7L1084 1137.9ZM1087 1085.2L1089 1079.4V1095.8L1087 1100.9ZM1091 1142.5L1093 1138.5V1154.3L1091 1158ZM1094 1120.3L1096 1115.7V1133.4L1094 1137.5ZM1096 1028.2L1098 1028.2V1040.2L1096 1048.6ZM1096 1131.1L1098 1126.8V1143.6L1096 1147.5ZM1098 1110.5L1100 1105.6V1124.3L1098 1128.7ZM1100 1105.9L1101 1103.4V1122.4L1100 1124.6ZM1101 1100.6L1103 1095.3V1115.2L1101 1119.8ZM1106 1057.1L1108 1049.4V1060.3L1106 1067.3ZM1106 1129.8L1108 1125.3V1142.5L1106 1146.5ZM1111 1135.1L1113 1130.8V1144.3L1111 1144.3ZM1119 1084.9L1122 1075.6V1089.8L1119 1098.2ZM1119 1136.3L1122 1129.6V1136.3L1119 1136.3ZM1122 1063.1L1124 1055.7V1069.6L1122 1076.2ZM1122 1128.3L1124 1123.7V1133.9L1122 1133.9ZM1124 1107.1L1127 1099.1V1119.2L1124 1126.3ZM1127 1032.9L1130 1025.8V1032.2L1127 1045.9ZM1132 1027.6L1135 1021V1026.8L1132 1041.4ZM1132 1053.4L1135 1040.8V1063.8L1132 1074.2ZM1135 1063.2L1136 1059.5V1079.4L1135 1082.6ZM1154 1089.9L1156 1083.7V1100.6L1154 1100.6ZM1161 1091.3L1163 1085.1V1092.6L1161 1092.6ZM1169 1042.5L1171 1032.9V1048.2L1169 1056.5ZM1169 1069L1171 1061.6V1073.7L1169 1080.4Z"/><path fill="#003bb8" d="M198 1035.7L199 1035.7V1042.6L198 1037.8ZM206 1031L208 1040.7V1055.2L206 1046.6ZM206 1046.6L208 1055.2V1065.1L206 1060.5ZM208 1019.3L209 1025.2V1044.4L208 1039.7ZM209 1059.7L210 1063.6V1068.3L209 1068.3ZM218 1062.9L219 1066.7V1079.6L218 1079.6ZM219 1063.2L221 1070.7V1081.5L219 1081.5ZM224 1014.8L226 1021.9V1037L224 1026.7ZM237 1049.7L238 1053.9V1071.3L237 1067.7ZM237 1083.5L238 1086.7V1100.6L237 1097.8ZM250 1101.4L253 1109.6V1117L250 1117ZM259 1079.9L262 1089.1V1102.5L259 1094ZM262 1036.5L265 1036.5V1051.2L262 1038.2ZM265 1088.8L267 1094.6V1107.4L265 1102.1ZM267 1079.1L270 1088.3V1104.7L267 1096.5ZM279 1020L281 1021.7V1040.6L279 1031.2ZM279 1119L281 1123.7V1141.3L279 1137ZM281 1022.3L283 1032.2V1049.1L281 1040.7ZM283 1131.5L286 1138V1148.9L283 1148.5ZM288 1123.3L291 1130.1V1146.9L288 1140.8ZM291 1131.6L292 1133.8V1150.3L291 1148.4ZM291 1148.4L292 1150.3V1155.1L291 1155.1ZM292 1130.5L294 1134.8V1151.3L292 1147.3ZM296 1076L298 1082.2V1098.5L296 1093.1ZM304 1080.3L307 1089V1101.5L304 1093.6ZM304 1131.3L307 1137.6V1153.5L304 1147.7ZM311 1082.4L313 1088.1V1103.5L311 1098.4ZM316 1044L318 1046.5V1057.4L316 1049.9ZM322 1133.7L324 1137.7V1160.5L322 1156.9ZM326 1138.3L328 1142.2V1164.4L326 1161ZM331 1047.6L334 1058.6V1076.9L331 1067.8ZM331 1085L334 1093V1107.4L331 1100.2ZM335 1038.6L337 1046.8V1067L335 1060.4ZM335 1126L337 1130.1V1145.7L335 1142ZM341 1083L343 1088.4V1107.6L341 1103ZM343 1066.9L345 1073V1094.2L343 1089.1ZM345 1094.8L347 1099.7V1117.5L345 1113.2ZM345 1113.2L347 1117.5V1133.8L345 1129.9ZM347 1132.8L349 1136.7V1158.6L347 1155.2ZM349 1053.2L351 1060.1V1073.7L349 1067.7ZM351 1109.2L353 1113.6V1130L351 1126.1ZM355 1086.4L357 1091.5V1104.8L355 1100.2ZM355 1117.7L357 1121.9V1137.5L355 1133.8ZM357 1191.6L360 1195.7V1205.9L357 1205.9ZM369 1125.4L372 1131V1152.6L369 1147.5ZM372 1050.3L375 1057.5V1074.1L372 1065.3ZM379 1181.9L381 1184.6V1202.1L379 1199.5ZM390 1069.9L393 1069.9V1075.2L390 1069.9ZM390 1218.9L393 1222.3V1226L390 1226ZM403 1217.5L406 1220.8V1233.2L403 1232.9ZM406 1066.1L409 1074.3V1092.2L406 1085.3ZM428 1238.7L430 1240.6V1245.7L428 1245.7ZM432 1049.3L434 1049.3V1058.6L432 1052.5ZM432 1134.1L434 1137.2V1154.8L432 1152ZM432 1213.4L434 1215.5V1230.1L432 1228.1ZM440 1084.8L444 1084.8V1092.1L440 1084.8ZM440 1177.4L444 1182.1V1196.8L440 1192.4ZM449 1071.5L451 1076.3V1092.7L449 1088.6ZM459 1078.2L462 1084.7V1106.7L459 1101.4ZM462 1173.7L465 1177V1191.3L462 1188.2ZM465 1191.4L467 1193.4V1207L465 1205.1ZM470 1102.7L472 1106.1V1124.9L470 1122ZM475 1049.2L478 1049.2V1062.1L475 1054ZM475 1130L478 1134.1V1150.3L475 1146.6ZM478 1083.6L481 1083.6V1101.6L478 1096.3ZM478 1165.1L481 1168.3V1182.5L478 1179.5ZM481 1120.5L484 1124.8V1141.4L481 1137.6ZM493 1087.5L495 1091.2V1105.5L493 1102.4ZM495 1091.2L498 1096.4V1110.1L495 1105.5ZM495 1123.4L498 1127.4V1143.3L495 1139.8ZM495 1169.3L498 1172.3V1185.7L495 1182.9ZM495 1268.5L498 1270.4V1273.4L495 1273.4ZM506 1149.8L510 1154V1167.9L506 1164ZM510 1084.3L513 1089.5V1109.7L510 1105.4ZM513 1075.1L517 1082.7V1095.7L513 1089.2ZM513 1142.6L517 1146.9V1160.9L513 1157ZM517 1096L520 1100.6V1119L517 1115.1ZM517 1132.4L520 1135.8V1150.2L517 1147.1ZM517 1187.3L520 1189.8V1214L517 1211.9ZM520 1100.7L523 1105V1122.8L520 1119.1ZM523 1139.5L526 1142.7V1156.5L523 1153.6ZM526 1169.9L529 1172.5V1197.2L526 1195ZM526 1195L529 1197.2V1220.7L526 1218.7ZM529 1062.5L531 1066.8V1080.9L529 1077.4ZM529 1145.7L531 1147.6V1161.1L529 1159.2ZM531 1066.7L533 1070.7V1084.2L531 1080.8ZM531 1115.8L533 1118.2V1134.4L531 1132.2ZM533 1102.6L537 1107.9V1123.2L533 1118.6ZM537 1203L539 1204.3V1227.1L537 1225.9ZM539 1035L541 1041.5V1050.3L539 1044.9ZM539 1126L541 1128.2V1143.3L539 1141.4ZM559 1280.5L562 1281.8V1291.5L559 1291.5ZM562 1054.1L565 1060.5V1097L562 1093.2ZM565 1060.5L569 1067.9V1101.8L565 1097ZM565 1097L569 1101.8V1128.5L565 1124.8ZM565 1283.1L569 1284.7V1292.9L565 1292.9ZM569 1067.9L573 1074.5V1106.2L569 1101.8ZM583 1116.1L586 1118.8V1142.2L583 1140ZM583 1229.2L586 1230.5V1250.9L583 1249.7ZM583 1290L586 1291V1296.4L583 1296.4ZM586 1091.9L589 1095.2V1121.4L586 1118.8ZM586 1118.8L589 1121.4V1144.3L586 1142.2ZM591 1097.3L596 1102.3V1126.9L591 1123ZM591 1145.7L596 1148.9V1170.5L591 1167.7ZM607 1198.4L611 1200V1220.1L607 1218.6ZM627 1145.4L631 1147.2V1166.3L627 1164.8ZM631 1103.5L634 1105.5V1128.7L631 1127.2ZM631 1147.2L634 1148.5V1167.4L631 1166.3ZM631 1166.3L634 1167.4V1186.7L631 1185.7ZM641 1131.9L644 1133.1V1152.2L641 1151.2ZM641 1151.2L644 1152.2V1170.7L641 1169.8ZM641 1169.8L644 1170.7V1189.6L641 1188.8ZM644 1267.6L648 1268.3V1287.2L644 1286.6ZM659 1117.5L661 1118.2V1138.8L659 1138.3ZM659 1156.6L661 1157.1V1175L659 1174.6ZM671 1159.1L674 1159.6V1177.2L671 1176.8ZM674 1159.6L678 1160.2V1177.7L674 1177.2ZM674 1195.4L678 1195.9V1216L674 1215.6ZM686 1272.5L690 1272.6V1291.2L686 1291.1ZM686 1291.1L690 1291.2V1306.5L686 1306.5ZM690 1143.6L694 1143.9V1161.5L690 1161.3ZM694 1254.1L698 1254.2V1272.8L694 1272.7ZM698 1124.5H702V1144H698ZM704 1161.6L708 1161.4V1178.8L704 1179ZM708 1124.3L710 1124.1V1143.7L708 1143.8ZM708 1143.8L710 1143.7V1161.3L708 1161.4ZM712 1124L715 1123.6V1143.3L712 1143.5ZM718 1290.9L723 1290.6V1306L718 1306ZM726 1159.7L728 1159.4V1177L726 1177.3ZM728 1077.6L731 1077V1120.7L728 1121.4ZM728 1141.4L731 1140.9V1158.9L728 1159.4ZM736 1119.3L740 1118V1138.7L736 1139.7ZM736 1270.7L740 1270.2V1289L736 1289.5ZM743 1156.3L747 1155.2V1173.4L743 1174.3ZM747 1155.2L750 1154.4V1172.6L747 1173.4ZM747 1191.9L750 1191.3V1211.9L747 1212.5ZM757 1110.9L761 1108.8V1131.3L757 1133ZM764 1247.1L769 1245.9V1265.1L764 1266.2ZM769 1051.5L774 1051.5V1100.5L769 1103.9ZM774 1145.2L777 1143.8V1163.4L774 1164.6ZM777 1204.6L782 1202.8V1222.7L777 1224.3ZM785 1091.4L789 1087.6V1115.3L785 1118.1ZM789 1087.6L793 1083.4V1112.3L789 1115.3ZM789 1137.3L793 1134.9V1155.7L789 1157.8ZM793 1055.1L795 1055.1V1081.1L793 1083.4ZM793 1083.4L795 1081.1V1110.7L793 1112.3ZM802 1128.8L806 1125.8V1148.1L802 1150.5ZM802 1150.5L806 1148.1V1169.7L802 1171.9ZM806 1192.8L809 1191.3V1212.3L806 1213.6ZM811 1211.4L815 1209.5V1230.3L811 1232ZM815 1209.5L818 1208V1229L815 1230.3ZM821 1053.8L826 1053.8V1076.9L821 1084ZM831 1102.5L836 1096.5V1124.4L831 1129.1ZM831 1178.8L836 1175.5V1198.2L831 1201.2ZM836 1096.5L840 1091.4V1120.5L836 1124.4ZM842 1088.6L847 1081.2V1112.9L842 1118.4ZM858 1044.8L862 1037.2V1042.4L858 1053.1ZM858 1114.7L862 1109.9V1125L858 1129.3ZM858 1144.2L862 1140.4V1154.9L858 1158.5ZM862 1075L864 1071.3V1090.6L862 1093.6ZM866 1074.5L869 1068.7V1082.6L866 1087.5ZM866 1087.5L869 1082.6V1100.9L866 1105ZM869 1101.2L872 1096.9V1113.7L869 1117.4ZM872 1049.6L875 1049.6V1056L872 1062.9ZM872 1077.7L875 1072.1V1092.3L872 1096.9ZM878 1087.7L880 1084.3V1103L878 1105.8ZM880 1165.7L883 1162.9V1189L880 1191.4ZM889 1088.5L892 1083.2V1104.5L889 1108.9ZM892 1153.8L894 1151.7V1165.8L892 1167.7ZM894 1179.4L898 1175.7V1201.7L894 1205ZM894 1252.4L898 1249.8V1272.5L894 1273ZM898 1147.6L900 1145.3V1159.9L898 1162ZM910 1081.6L912 1077.5V1093.7L910 1097.1ZM912 1081.4L916 1073.1V1086L912 1093.4ZM916 1124.3L918 1121.5V1138.4L916 1140.9ZM916 1171L918 1168.9V1183L916 1184.9ZM918 1122.4L920 1119.5V1136.6L918 1139.2ZM918 1235.3L920 1233.7V1257.8L918 1259.3ZM920 1040.3L923 1040.3V1045.3L920 1054.3ZM920 1167.4L923 1164.1V1178.6L920 1181.7ZM920 1181.7L923 1178.6V1192.4L920 1195.3ZM923 1087.3L925 1083.3V1098.1L923 1101.6ZM925 1069.4L929 1059.4V1077.6L925 1085.9ZM925 1177.9L929 1173.7V1187.9L925 1191.8ZM929 1158.2L932 1154.6V1169.8L929 1173.1ZM929 1173.1L932 1169.8V1184.3L929 1187.4ZM932 1101L935 1095.6V1115.9L932 1120.6ZM932 1154.4L935 1150.7V1166.3L932 1169.7ZM932 1184.1L935 1181V1195.1L932 1198ZM935 1182L938 1178.7V1193L935 1196ZM938 1089.7L942 1081.4V1104L938 1110.9ZM942 1083.3L945 1076.6V1100.2L942 1105.6ZM948 1134.8L951 1130.3V1147.9L948 1151.9ZM951 1128.7L953 1125.6V1143.6L951 1146.4ZM953 1054.8L956 1045.2V1067.1L953 1074.6ZM953 1191L956 1187.7V1202.1L953 1205.2ZM953 1245.9L956 1243.3V1249.4L953 1249.4ZM956 1139.5L960 1133.6V1151.2L956 1156.5ZM960 1078.7L963 1071.4V1089L960 1095.2ZM968 1051.9L972 1040.6V1053.3L968 1065ZM968 1065L972 1053.3V1066.3L968 1076.6ZM972 1170L975 1166.1V1182.1L972 1185.7ZM972 1229.7L975 1226.7V1240.2L972 1240.2ZM984 1075L987 1067.8V1081.5L984 1088.5ZM984 1088.5L987 1081.5V1098.4L984 1104.5ZM987 1098L990 1091.4V1107.3L987 1113.1ZM990 1224.5L992 1222.4V1231L990 1231ZM997 1217.2L999 1215V1227.1L997 1227.1ZM999 1200L1001 1197.6V1213.8L999 1216.1ZM1007 1085.2L1010 1077.6V1095.7L1007 1102.3ZM1022 1117.3L1025 1111.2V1126.2L1022 1131.8ZM1025 1091.3L1027 1086.3V1103.8L1025 1108.1ZM1027 1104.1L1030 1097.3V1113.7L1027 1119.8ZM1027 1155.4L1030 1150.5V1170.4L1027 1174.9ZM1040 1056.3L1043 1045.5V1069.9L1040 1078.5ZM1040 1130.2L1043 1124.4V1139.8L1040 1145.2ZM1040 1145.2L1043 1139.8V1154.2L1040 1159.2ZM1040 1178.8L1043 1174.3V1193.1L1040 1197.3ZM1047 1101.5L1049 1096.8V1114.8L1047 1119ZM1049 1115L1051 1110.6V1127.4L1049 1131.3ZM1051 1061.5L1054 1051V1065.8L1051 1074.9ZM1051 1160.8L1054 1155.8V1176.2L1051 1180.8ZM1054 1050.8L1055 1047V1062.4L1054 1065.6ZM1054 1065.6L1055 1062.4V1075.8L1054 1078.7ZM1054 1117L1055 1114.8V1131.4L1054 1133.3ZM1055 1064.8L1056 1064.8V1070.5L1055 1073.5ZM1058 1055.4L1060 1048V1059.2L1058 1065.8ZM1058 1065.8L1060 1059.2V1082.8L1058 1088.2ZM1058 1088.2L1060 1082.8V1102.8L1058 1107.5ZM1058 1155.3L1060 1151.8V1166L1058 1169.2ZM1060 1058.6L1062 1051.5V1070.8L1060 1076.8ZM1062 1087.5L1063 1084.8V1100L1062 1102.4ZM1062 1115.9L1063 1113.7V1130.6L1062 1132.6ZM1063 1085.1L1066 1076.6V1092.6L1063 1100.2ZM1066 1037.5L1068 1032.3V1052.4L1066 1059.5ZM1070 1046.7L1072 1038.4V1060.4L1070 1067ZM1070 1099.7L1072 1094.6V1113.6L1070 1118.1ZM1072 1130.2L1075 1123.9V1140.3L1072 1146ZM1077 1070.6L1080 1060.7V1073.3L1077 1082.2ZM1080 1069.7L1083 1059.6V1083.9L1080 1092.2ZM1080 1160.4L1083 1155V1169.5L1080 1170.5ZM1087 1026.4L1089 1026.4V1026.4L1087 1034.5ZM1087 1148.7L1089 1144.8V1160.1L1087 1163.7ZM1091 1125.9L1093 1121.4V1138.5L1091 1142.5ZM1093 1136.9L1094 1134.8V1150.9L1093 1152.8ZM1094 1101.4L1096 1096.2V1115.7L1094 1120.3ZM1096 1080.2L1098 1074V1087.9L1096 1093.4ZM1098 1061.4L1100 1054.1V1070.3L1098 1076.6ZM1098 1090.2L1100 1084.6V1105.6L1098 1110.5ZM1100 1124.6L1101 1122.4V1139.6L1100 1141.6ZM1101 1030.2L1103 1030.2V1030.2L1101 1036.6ZM1101 1066.4L1103 1059.4V1072.5L1101 1078.7ZM1108 1079.3L1111 1069.7V1087.7L1108 1096.1ZM1111 1086.4L1113 1080.4V1097.2L1111 1102.5ZM1119 1118.2L1122 1110.8V1129.6L1119 1136.3ZM1122 1109.3L1124 1104.2V1123.7L1122 1128.3ZM1124 1073.3L1127 1070.8V1076.1L1124 1085.4ZM1127 1045.9L1130 1032.2V1045.3L1127 1057.4ZM1127 1086.4L1130 1077.1V1094.7L1127 1102.9ZM1127 1102.9L1130 1094.7V1110.4L1127 1117.9ZM1127 1128.6L1130 1124.9V1128.6L1127 1128.6ZM1132 1092.1L1135 1083.1V1100.1L1132 1108.2ZM1132 1122.9L1135 1115.5V1123.5L1132 1123.5ZM1135 1099.6L1136 1096.8V1112.5L1135 1115.1ZM1169 1018L1171 1018V1018L1169 1026.2Z"/><path fill="#0046c0" d="M205 1061L206 1063.1V1063.1L205 1063.1ZM209 1033.2L210 1033.2V1047.8L209 1043.2ZM241 1075.2L242 1078.6V1096.6L241 1093.7ZM241 1093.7L242 1096.6V1106.3L241 1106.3ZM244 1067.5L246 1067.5V1073.7L244 1067.5ZM244 1103.3L246 1108.7V1110.1L244 1110.1ZM250 1064.6L253 1075.1V1093.3L250 1084.2ZM256 1015.8L259 1015.8V1027.1L256 1015.8ZM262 1074L265 1083.6V1097.3L262 1088.6ZM267 1112.2L270 1119.6V1134L267 1131.2ZM270 1082.3L271 1085.4V1102L270 1099.3ZM271 1089.7L273 1095.5V1111.1L271 1105.9ZM273 1109.5L276 1117V1130.9L273 1124ZM273 1124L276 1130.9V1139.7L273 1139.7ZM281 1123.7L283 1128.3V1145.5L281 1141.3ZM288 1088.6L291 1096.5V1111.7L288 1104.1ZM294 1070.7L296 1077.1V1094.1L294 1088.5ZM294 1136.4L296 1140.6V1156.5L294 1152.7ZM298 1146.6L299 1148.6V1161.1L298 1161.1ZM301 1053.6L304 1064.4V1079.3L301 1069.9ZM301 1105.3L304 1112.6V1130.5L301 1124ZM301 1124L304 1130.5V1147L301 1141ZM307 1121.1L309 1125.6V1142.3L307 1138.2ZM309 1070.9L311 1077.2V1093.7L309 1088.3ZM309 1139.3L311 1143.3V1158.7L309 1155.1ZM313 1067.3L316 1076.7V1093.2L313 1085ZM313 1085L316 1093.2V1108.1L313 1100.7ZM316 1155.7L318 1159.3V1173.6L316 1170.2ZM318 1046.5L320 1049.6V1060.1L318 1052.9ZM318 1156.9L320 1160.5V1174.7L318 1171.3ZM324 1053.1L326 1060.3V1075.1L324 1068.9ZM326 1053.6L328 1060.7V1075.5L326 1069.3ZM326 1103.6L328 1108.4V1126L326 1121.8ZM328 1060.1L331 1069.9V1083.7L328 1075ZM331 1135.2L334 1141V1156L331 1150.6ZM334 1121.3L335 1123.4V1139.6L334 1137.7ZM337 1067.9L339 1074.1V1090.3L337 1085ZM337 1085L339 1090.3V1104.9L337 1100.1ZM341 1136.9L343 1140.7V1155.4L341 1151.9ZM343 1089.1L345 1094.2V1112.7L343 1108.2ZM343 1189.4L345 1192.3V1196.1L343 1196.1ZM347 1098.5L349 1103.2V1120.7L347 1116.5ZM349 1050.4L351 1050.4V1060.1L349 1053.2ZM353 1077L355 1082.6V1096.6L353 1091.7ZM353 1110.3L355 1114.6V1130.9L353 1127ZM355 1047.3L357 1047.3V1060.4L355 1053.6ZM360 1141.3L362 1144.8V1158.8L360 1155.5ZM366 1181.3L369 1185.6V1203.4L366 1199.4ZM369 1033.9L372 1040.5V1056.4L369 1045.7ZM379 1051L381 1051V1059.9L379 1053.4ZM385 1102.8L387 1107.1V1122.2L385 1118.3ZM390 1069.9L393 1075.2V1089.2L390 1081.8ZM396 1120L399 1125.5V1145.4L396 1140.5ZM409 1069.5L412 1077.4V1094.8L409 1088.1ZM412 1112.7L415 1118.3V1131.8L412 1126.8ZM425 1175.8L428 1179.6V1194.8L425 1191.3ZM430 1240.4L432 1242.3V1246.7L430 1246.7ZM432 1184.2L434 1186.6V1201.3L432 1199.1ZM432 1242.4L434 1244.2V1247.6L432 1247.6ZM434 1055.1L437 1055.1V1064.6L434 1056ZM437 1093.3L440 1099.3V1113.6L437 1108.2ZM437 1217.6L440 1220.6V1234.8L437 1232ZM440 1144.9L444 1150.5V1166.8L440 1161.7ZM440 1248.7L444 1251.8V1251.8L440 1251.8ZM444 1152.2L446 1154.8V1170.8L444 1168.4ZM451 1144.6L453 1147.3V1163.5L451 1161ZM451 1191.1L453 1193.3V1207.2L451 1205.2ZM459 1185.9L462 1189.1V1202.9L459 1200ZM462 1124.8L465 1129.3V1146.3L462 1142.3ZM462 1158.5L465 1162.1V1177L462 1173.7ZM465 1089.6L467 1093.5V1114L465 1110.7ZM465 1129.4L467 1132.3V1148.9L465 1146.4ZM465 1177.1L467 1179.3V1193.4L465 1191.4ZM467 1055.9L470 1055.9V1067.9L467 1060.3ZM467 1094.2L470 1099.7V1119.3L467 1114.6ZM467 1132.8L470 1137V1153.2L467 1149.4ZM470 1139.4L472 1142.1V1157.9L470 1155.5ZM470 1185L472 1187.1V1200.8L470 1198.9ZM478 1116.1L481 1120.6V1137.6L478 1133.7ZM481 1079.6L484 1085.6V1106.4L481 1101.5ZM484 1085.2L487 1090.9V1110.8L484 1106.1ZM491 1177.9L493 1179.8V1193.2L491 1191.4ZM493 1137.3L495 1139.7V1154.9L493 1152.7ZM495 1182.9L498 1185.7V1198.8L495 1196.2ZM498 1041.4L500 1044.5V1057L498 1051.7ZM498 1051.7L500 1057V1067.8L498 1063.2ZM500 1248.9L503 1251V1273.7L500 1271.8ZM503 1146.2L506 1149.6V1163.7L503 1160.7ZM503 1271.4L506 1273.3V1276L503 1276ZM510 1154.2L513 1157.2V1170.8L510 1168ZM510 1253.6L513 1255.5V1277.7L510 1276ZM513 1058.7L517 1067.8V1082.7L513 1075.1ZM513 1157L517 1160.9V1174.3L513 1170.6ZM517 1082.9L520 1088.1V1100.6L517 1096ZM517 1161.1L520 1164V1189.8L517 1187.3ZM520 1135.9L523 1139.1V1153.3L520 1150.3ZM523 1192.5L526 1194.9V1218.6L523 1216.5ZM526 1142.8L529 1145.9V1159.4L526 1156.6ZM529 1053.3L531 1053.3V1066.8L529 1062.5ZM533 1118.6L537 1123.2V1138.8L533 1134.7ZM533 1200.2L537 1203V1226L533 1223.4ZM537 1138.7L539 1140.7V1155.3L537 1153.5ZM541 1053.3L545 1056.8V1066.4L541 1058ZM541 1128.1L545 1132.3V1147L541 1143.2ZM545 1132.3L549 1136.2V1150.5L545 1147ZM552 1139L555 1141.7V1168.8L552 1166.5ZM552 1213.1L555 1214.8V1236.6L552 1235ZM559 1194.8L562 1196.7V1218.7L559 1217.1ZM569 1101.8L573 1106.2V1132L569 1128.5ZM569 1153.1L573 1156V1180.9L569 1178.4ZM578 1057.6L581 1057.6V1085.8L578 1081.8ZM581 1085.8L583 1088.3V1116.1L581 1114.3ZM583 1140L586 1142.2V1164.7L583 1162.8ZM589 1059L591 1060.2V1097.3L589 1095.2ZM591 1191L596 1193.4V1214.2L591 1212ZM596 1148.9L599 1150.8V1172.1L596 1170.5ZM596 1214.2L599 1215.5V1235.8L596 1234.6ZM596 1274.6L599 1275.5V1295.2L596 1294.2ZM603 1196.6L607 1198.4V1218.6L603 1217.1ZM607 1111.8L611 1114.8V1136.9L607 1134.5ZM607 1134.5L611 1136.9V1157.5L607 1155.4ZM611 1052.1L613 1052.1V1089L611 1087ZM618 1093.6L622 1097V1122.2L618 1119.7ZM622 1262.7L627 1264V1283.2L622 1282ZM627 1184.3L631 1185.7V1206.9L627 1205.7ZM631 1185.7L634 1186.7V1207.8L631 1206.9ZM634 1148.5L636 1149.3V1168.2L634 1167.4ZM636 1106.7L641 1109.5V1131.9L636 1129.7ZM636 1129.7L641 1131.9V1151.2L636 1149.3ZM644 1170.7L648 1171.9V1190.6L644 1189.6ZM653 1056.7L656 1059.2V1116.4L653 1115.2ZM656 1250.8L659 1251.2V1270L656 1269.6ZM661 1118.2L665 1119.4V1139.8L661 1138.8ZM661 1289.1L665 1289.5V1305.6L661 1305.6ZM665 1119.4L667 1120V1140.3L665 1139.8ZM674 1177.2L678 1177.7V1195.9L674 1195.4ZM683 1143L686 1143.3V1161L683 1160.7ZM683 1160.7L686 1161V1178.5L683 1178.2ZM683 1196.3L686 1196.5V1216.6L683 1216.4ZM686 1123.7L690 1124.1V1143.6L686 1143.3ZM694 1143.9L698 1144V1161.6L694 1161.5ZM702 1217H704V1235.6H702ZM704 1124.4L708 1124.3V1143.8L704 1144ZM704 1272.8L708 1272.7V1291.3L704 1291.4ZM710 1161.3L712 1161.2V1178.7L710 1178.8ZM712 1161.2L715 1161V1178.4L712 1178.7ZM723 1160.1L726 1159.7V1177.3L723 1177.7ZM733 1073.8L736 1072.7V1119.3L733 1120.1ZM736 1139.7L740 1138.7V1157L736 1157.9ZM740 1251.4L743 1251V1269.8L740 1270.2ZM747 1212.5L750 1211.9V1230.9L747 1231.5ZM755 1190L757 1189.5V1210.3L755 1210.8ZM757 1152.1L761 1150.7V1169.4L757 1170.6ZM761 1131.3L764 1129.9V1149.5L761 1150.7ZM785 1051.2L789 1051.2V1087.6L785 1091.4ZM789 1157.8L793 1155.7V1176.3L789 1178.2ZM793 1134.9L795 1133.6V1154.6L793 1155.7ZM795 1133.6L799 1130.9V1152.3L795 1154.6ZM799 1276.4L802 1275.4V1295L799 1295.9ZM802 1194.7L806 1192.8V1213.6L802 1215.3ZM809 1033.4L811 1033.4V1057.6L809 1061.3ZM809 1212.3L811 1211.4V1232L809 1232.9ZM809 1232.9L811 1232V1252.3L809 1253.1ZM809 1253.1L811 1252.3V1272.4L809 1273.1ZM818 1087.8L821 1084V1112.9L818 1115.8ZM818 1186.6L821 1184.9V1206.5L818 1208ZM818 1269.8L821 1268.6V1288.7L818 1289.8ZM818 1289.8L821 1288.7V1293.9L818 1293.9ZM821 1206.5L826 1203.9V1225.3L821 1227.6ZM829 1104.7L831 1102.5V1129.1L829 1130.8ZM831 1153.5L836 1149.7V1175.5L831 1178.8ZM847 1081.1L851 1074.5V1108.2L847 1112.9ZM847 1112.9L851 1108.2V1136.6L847 1140.3ZM847 1191.3L851 1188.5V1211.5L847 1213.9ZM851 1063.7L854 1057.4V1069.1L851 1074.5ZM851 1136.5L854 1133.6V1148.2L851 1150.8ZM851 1233.6L854 1231.9V1253.5L851 1255.1ZM856 1117.1L858 1114.8V1129.3L856 1131.4ZM856 1208.1L858 1206.8V1229.3L856 1230.5ZM869 1133.7L872 1130.4V1146L869 1149ZM880 1103L883 1098.6V1117.4L880 1121.2ZM880 1121.2L883 1117.4V1134.4L880 1137.8ZM889 1170.4L892 1167.6V1181L889 1183.6ZM892 1104.7L894 1101.6V1120.7L892 1123.3ZM892 1253.6L894 1252.3V1274L892 1274ZM894 1120.9L898 1115.5V1132.1L894 1136.9ZM894 1136.9L898 1132.1V1147.5L894 1151.9ZM894 1165.9L898 1161.9V1175.7L894 1179.4ZM894 1205L898 1201.7V1226.3L894 1229.2ZM894 1229.2L898 1226.3V1249.8L894 1252.4ZM898 1115.6L900 1112.7V1129.7L898 1132.2ZM898 1162L900 1159.9V1173.9L898 1175.8ZM900 1084.7L904 1076.9V1092.8L900 1099.5ZM900 1174L904 1170.1V1196.8L900 1200.2ZM912 1068.1L916 1058.2V1073.1L912 1081.4ZM918 1068.8L920 1064V1078.2L918 1082.3ZM918 1154.9L920 1152.6V1167.5L918 1169.6ZM923 1114.6L925 1111.5V1129.6L923 1132.3ZM923 1163.9L925 1161.6V1176.3L923 1178.4ZM925 1085.9L929 1077.6V1093.2L925 1100.4ZM932 1049.3L935 1045.5V1062L932 1069.5ZM932 1069.5L935 1062V1080L932 1086.3ZM932 1198L935 1195.1V1221.8L932 1224.4ZM938 1162.7L942 1157.8V1173.2L938 1177.7ZM938 1192L942 1187.8V1201.8L938 1205.7ZM942 1142.7L945 1138.6V1155.3L942 1159ZM942 1216.4L945 1213.6V1239.7L942 1242.2ZM948 1087.4L951 1080.9V1096.8L948 1102.4ZM948 1167.8L951 1164.1V1179.5L948 1182.9ZM951 1059.8L953 1054V1074L951 1078.7ZM951 1094.9L953 1090.8V1105.7L951 1109.3ZM951 1247.4L953 1245.6V1250.6L951 1250.6ZM953 1091.4L956 1085V1100.7L953 1106.2ZM953 1126.1L956 1121.3V1139.8L953 1144ZM953 1160.6L956 1156.7V1172.7L953 1176.2ZM956 1215.8L960 1211.8V1225.5L956 1229.3ZM960 1037.1L963 1037.1V1050.3L960 1059.4ZM960 1184.8L963 1181.3V1196.2L960 1199.5ZM963 1111.4L965 1107.8V1128L963 1131.2ZM963 1181.3L965 1178.9V1194L963 1196.2ZM965 1125.7L968 1120.7V1139.7L965 1144.1ZM968 1174.7L972 1169.6V1185.4L968 1190ZM975 1094L978 1087.5V1103.5L975 1109.3ZM975 1129.7L978 1124.7V1143.7L975 1148.2ZM975 1181.3L978 1177.5V1193L975 1196.5ZM981 1119.7L984 1114.2V1134.5L981 1139.3ZM987 1032.2L990 1032.2V1032.2L987 1041.7ZM987 1056.7L990 1046.7V1061L987 1069.5ZM987 1211.8L990 1208.4V1223.9L987 1227ZM990 1108.3L992 1104.3V1119.1L990 1122.7ZM990 1177.1L992 1174.5V1190.5L990 1193ZM992 1086.5L995 1079.3V1096.7L992 1103ZM992 1117.9L995 1112.2V1133.1L992 1138.1ZM995 1058.6L997 1052.2V1073.9L995 1079ZM995 1079L997 1073.9V1092.1L995 1096.5ZM997 1076.3L999 1071V1089.6L997 1094.2ZM999 1051.2L1001 1044.1V1067.6L999 1073.2ZM999 1166.5L1001 1163.6V1180.6L999 1183.2ZM1001 1082L1004 1074.3V1088.3L1001 1095.2ZM1001 1157.4L1004 1152.9V1170.6L1001 1174.8ZM1001 1174.8L1004 1170.6V1188.3L1001 1192.1ZM1007 1151.1L1010 1146.3V1164.7L1007 1169ZM1007 1203.8L1010 1200.1V1216.5L1007 1220ZM1010 1075.5L1012 1069.9V1089.1L1010 1093.8ZM1010 1163.4L1012 1160.4V1179L1010 1181.7ZM1012 1056.1L1014 1049.3V1061.4L1012 1067.4ZM1016 1079.6L1019 1071.4V1090.6L1016 1097.6ZM1022 1057.5L1025 1047.1V1065.3L1022 1074ZM1022 1101.5L1025 1094.6V1111.2L1022 1117.3ZM1025 1108.1L1027 1103.8V1119.5L1025 1123.4ZM1027 1086.7L1030 1078.9V1097.3L1027 1104.1ZM1030 1097.8L1032 1093V1109.9L1030 1114.1ZM1032 1081L1035 1072.7V1092.1L1032 1099.2ZM1032 1099.2L1035 1092.1V1109.2L1032 1115.5ZM1035 1074.1L1037 1068.2V1088.4L1035 1093.3ZM1035 1093.3L1037 1088.4V1105.9L1035 1110.3ZM1040 1078.5L1043 1069.9V1090L1040 1097.3ZM1040 1114.1L1043 1107.5V1124.4L1040 1130.2ZM1045 1093.2L1047 1088.1V1101.7L1045 1106.3ZM1045 1138.9L1047 1135.1V1149.9L1045 1153.4ZM1045 1192.5L1047 1189.7V1197L1045 1197ZM1047 1119L1049 1114.8V1131.2L1047 1135ZM1049 1186.8L1051 1183.9V1194.3L1049 1194.3ZM1054 1078.7L1055 1075.8V1096.6L1054 1099ZM1055 1094.6L1056 1092.1V1110.8L1055 1113.1ZM1055 1152.4L1056 1150.7V1171.6L1055 1173.2ZM1056 1037.4L1058 1035.4V1044L1056 1051.6ZM1060 1136.4L1062 1132.5V1147.9L1060 1151.5ZM1063 1037.1L1066 1029.1V1035.8L1063 1048.1ZM1068 1030.8L1070 1030.8V1042.6L1068 1050.5ZM1068 1102.1L1070 1097.1V1115.8L1068 1120.1ZM1072 1081.2L1075 1072.3V1085.9L1072 1093.9ZM1075 1022.9L1077 1022.9V1029L1075 1038.3ZM1077 1057.8L1080 1046.5V1060.7L1077 1070.6ZM1080 1111.7L1083 1104.5V1122.8L1080 1129.2ZM1080 1129.2L1083 1122.8V1139.5L1080 1145.3ZM1080 1145.3L1083 1139.5V1155L1080 1160.4ZM1083 1107.3L1084 1104.9V1123.2L1083 1125.3ZM1084 1092.4L1087 1084.1V1099.9L1084 1107.3ZM1084 1137.9L1087 1131.7V1147.8L1084 1153.5ZM1087 1115.2L1089 1110.5V1128.4L1087 1132.6ZM1091 1075.8L1093 1069.5V1087L1091 1092.6ZM1093 1119.7L1094 1117.4V1134.8L1093 1136.9ZM1096 1048.6L1098 1040.2V1058.4L1096 1065.4ZM1096 1065.4L1098 1058.4V1074L1096 1080.2ZM1098 1022L1100 1019.7V1034.9L1098 1043.8ZM1098 1128.7L1100 1124.3V1141.3L1098 1145.3ZM1101 1119.8L1103 1115.2V1133L1101 1137.2ZM1108 1142.3L1111 1136.1V1146.6L1108 1146.6ZM1116 1029.5L1119 1029.5V1034.2L1116 1047.5ZM1119 1016.3L1122 1016.3V1018L1119 1033.9ZM1145 1072L1148 1061.2V1074.9L1145 1084.6ZM1158 1095.5L1161 1087.7V1095.5L1158 1095.5ZM1164 1072.6L1167 1061.7V1075.6L1164 1085.5ZM1167 1063.3L1169 1055.5V1070.1L1167 1077ZM1211 990H1214V1040H1211Z"/><path fill="#0054cd" d="M193 1034.2L196 1048.1V1048.1L193 1048.1ZM199 1041.5L200 1041.5V1048.4L199 1043.9ZM226 1033.2L228 1033.2V1040.1L226 1033.2ZM228 1036L229 1036V1050.9L228 1046.6ZM228 1060.2L229 1064V1075.9L228 1072.4ZM228 1072.4L229 1075.9V1091.6L228 1091.5ZM232 1085.7L233 1088.8V1096.2L232 1096.2ZM238 1087L241 1096.1V1104.1L238 1101ZM241 1053.9L242 1057.9V1078.6L241 1075.2ZM242 1054.3L244 1062.1V1082.2L242 1075.6ZM246 1107.5L248 1112.2V1112.2L246 1112.2ZM250 1041.3L253 1054.1V1065L250 1053.6ZM270 1041.4L271 1041.4V1044.3L270 1041.4ZM271 1037.9L273 1046.7V1058.1L271 1050.3ZM271 1071.5L273 1078.1V1095.5L271 1089.7ZM273 1093.7L276 1102V1117L273 1109.5ZM276 1100.5L279 1108.4V1122.9L276 1115.7ZM286 1099.7L288 1105V1124.1L286 1119.4ZM288 1104.1L291 1111.7V1130.1L288 1123.3ZM291 1113.4L292 1115.8V1133.8L291 1131.6ZM292 1147.3L294 1151.3V1156.4L292 1156.4ZM294 1041.1L296 1046.5V1057.6L294 1050ZM296 1122.5L298 1127V1143.9L296 1139.8ZM298 1111.7L299 1114.1V1132.1L298 1129.9ZM307 1069L309 1075.3V1092.2L307 1086.6ZM307 1138.2L309 1142.3V1157.8L307 1154.1ZM307 1154.1L309 1157.8V1169L307 1169ZM309 1050.7L311 1058.1V1077.2L309 1070.9ZM311 1146.9L313 1150.7V1165.6L311 1162.1ZM313 1148.5L316 1154.2V1168.8L313 1163.6ZM316 1084.7L318 1090.2V1110L316 1105.2ZM318 1063.2L320 1069.7V1092.2L318 1086.8ZM318 1086.8L320 1092.2V1111.8L318 1107ZM318 1141.6L320 1145.4V1160.5L318 1156.9ZM322 1097.8L324 1102.8V1121L322 1116.6ZM322 1116.6L324 1121V1137.7L322 1133.7ZM324 1082.9L326 1088.4V1108.2L324 1103.4ZM326 1083.2L328 1088.7V1108.4L326 1103.6ZM331 1044.9L334 1044.9V1058.6L331 1047.6ZM334 1103.4L335 1105.8V1123.4L334 1121.3ZM335 1060.4L337 1067V1084.1L335 1078.5ZM347 1116.5L349 1120.7V1136.7L347 1132.8ZM349 1080.5L351 1085.9V1105.2L349 1100.5ZM351 1075.6L353 1081.2V1095.5L351 1090.5ZM353 1060.4L355 1066.8V1082.6L353 1077ZM357 1137.8L360 1143.3V1157.4L357 1152.4ZM362 1077.6L364 1083V1101.2L362 1096.5ZM362 1113.3L364 1117.4V1133.2L362 1129.4ZM362 1144.4L364 1147.9V1161.6L362 1158.4ZM364 1032.5L366 1033.2V1045.9L364 1037.9ZM364 1116.6L366 1120.7V1143.5L364 1139.9ZM369 1074L372 1082.2V1100.2L369 1093.2ZM379 1216.3L381 1218.7V1219.3L379 1219.3ZM383 1157.6L385 1160.7V1179.4L383 1176.6ZM385 1158.4L387 1161.5V1180L385 1177.3ZM399 1029.3L403 1043.3V1052.9L399 1038.4ZM415 1198.2L418 1201.6V1217.2L415 1213.9ZM418 1086L420 1090.5V1113.5L418 1109.7ZM422 1233.1L425 1236.1V1243L422 1243ZM425 1066.9L428 1074.7V1092L425 1085.4ZM428 1179.5L430 1181.9V1197L428 1194.7ZM430 1130.8L432 1134V1151.8L430 1149ZM432 1065.5L434 1070.8V1088.5L432 1084ZM432 1084L434 1088.5V1104L432 1100.1ZM437 1076.5L440 1083.5V1099.3L437 1093.3ZM437 1108.2L440 1113.6V1126.8L437 1121.9ZM437 1121.9L440 1126.8V1144.9L437 1140.6ZM437 1140.6L440 1144.9V1161.7L437 1157.8ZM437 1173.8L440 1177.4V1192.4L437 1189.1ZM446 1153.8L449 1157.7V1173.4L446 1169.9ZM449 1052.3L451 1052.3V1057L449 1052.3ZM449 1103.7L451 1107.3V1126.9L449 1123.8ZM451 1161L453 1163.5V1178.7L451 1176.5ZM451 1176.5L453 1178.7V1193.3L451 1191.1ZM453 1081L456 1087.4V1102.4L453 1096.8ZM453 1110.9L456 1116V1134.4L453 1130ZM453 1147.5L456 1151.4V1167.2L453 1163.6ZM459 1155.7L462 1159.4V1174.6L459 1171.2ZM459 1171.2L462 1174.6V1189.1L459 1185.9ZM462 1093.1L465 1093.1V1110.6L462 1105.5ZM465 1073.2L467 1077.7V1093.5L465 1089.6ZM475 1111.9L478 1116.5V1134.1L475 1130ZM475 1146.6L478 1150.3V1165.4L475 1162ZM481 1168.3L484 1171.5V1185.4L481 1182.5ZM484 1052.7L487 1052.7V1064.8L484 1057.2ZM484 1072.2L487 1078.6V1090.9L484 1085.2ZM484 1124.5L487 1128.6V1144.8L484 1141.1ZM491 1133.3L493 1135.9V1151.3L491 1149ZM493 1219.7L495 1221.3V1245.3L493 1243.9ZM493 1243.9L495 1245.3V1268.5L493 1267.2ZM495 1139.8L498 1143.3V1158.1L495 1154.9ZM495 1245.3L498 1247.5V1270.4L495 1268.5ZM498 1127.3L500 1129.9V1145.6L498 1143.2ZM500 1271.8L503 1273.7V1275L500 1275ZM506 1099L510 1105.2V1123.7L506 1118.5ZM510 1105.4L513 1109.7V1127.6L510 1123.9ZM517 1257.9L520 1259.7V1280.4L517 1280ZM520 1062.8L523 1065V1086.7L520 1081.5ZM523 1033.6L526 1033.6V1046.1L523 1036.7ZM523 1153.6L526 1156.5V1169.8L523 1167.1ZM526 1126.9L529 1130.3V1145.9L526 1142.8ZM526 1156.6L529 1159.4V1172.5L526 1169.9ZM529 1197.1L531 1198.5V1221.9L529 1220.6ZM531 1147.6L533 1149.5V1162.8L531 1161ZM533 1071.2L537 1078.5V1091L533 1084.7ZM537 1071.6L539 1075.3V1093.8L537 1090.9ZM537 1179L539 1180.6V1204.3L537 1203ZM539 1034.1L541 1034.1V1041.5L539 1035ZM539 1044.9L541 1050.3V1058.1L539 1053.4ZM539 1141.4L541 1143.3V1157.6L539 1155.9ZM541 1182.6L545 1185.5V1208.8L541 1206.2ZM549 1054.3L552 1054.3V1065.1L549 1059ZM549 1188.4L552 1190.4V1213.1L549 1211.3ZM552 1111.2L555 1114.6V1141.7L552 1139ZM555 1056.4L559 1056.4V1089.2L555 1083.4ZM562 1121.9L565 1124.8V1150L562 1147.6ZM565 1046.1L569 1046.1V1067.9L565 1060.5ZM573 1132L578 1136.2V1159.5L573 1156ZM581 1185.7L583 1186.8V1208.2L581 1207.2ZM583 1186.8L586 1188.4V1209.7L583 1208.2ZM583 1208.2L586 1209.7V1230.5L583 1229.2ZM589 1121.4L591 1123V1145.7L589 1144.3ZM596 1102.3L599 1105.1V1129.1L596 1126.9ZM596 1234.6L599 1235.8V1255.8L596 1254.7ZM599 1129.1L603 1131.9V1153.1L599 1150.8ZM603 1153.1L607 1155.4V1176.1L603 1174.1ZM603 1296.3L607 1297.5V1299.8L603 1299.8ZM607 1057.3L611 1057.3V1087L607 1082.7ZM611 1087L613 1089V1116.3L611 1114.8ZM611 1136.9L613 1138.1V1158.5L611 1157.5ZM611 1157.5L613 1158.5V1178.8L611 1177.9ZM613 1089L618 1093.6V1119.7L613 1116.3ZM613 1116.3L618 1119.7V1140.9L613 1138.1ZM618 1057L622 1057V1097L618 1093.6ZM618 1140.9L622 1143V1162.7L618 1160.9ZM618 1202.6L622 1204V1223.8L618 1222.5ZM627 1164.8L631 1166.3V1185.7L627 1184.3ZM631 1264.9L634 1265.6V1284.7L631 1284.1ZM634 1207.8L636 1208.3V1227.7L634 1227.2ZM636 1149.3L641 1151.2V1169.8L636 1168.2ZM641 1248L644 1248.6V1267.6L641 1267.1ZM644 1152.2L648 1153.6V1171.9L644 1170.7ZM644 1248.6L648 1249.4V1268.3L644 1267.6ZM648 1153.6L653 1155V1173.2L648 1171.9ZM659 1066.2L661 1066.9V1118.2L659 1117.5ZM678 1122.5L683 1123.3V1143L678 1142.3ZM678 1160.2L683 1160.7V1178.2L678 1177.7ZM686 1161L690 1161.3V1178.7L686 1178.5ZM694 1161.5L698 1161.6V1179L694 1178.9ZM698 1086.4H702V1124.5H698ZM698 1179H702V1197H698ZM702 1161.6H704V1179H702ZM708 1235.5L710 1235.4V1254L708 1254.1ZM708 1291.3L710 1291.3V1306.4L708 1306.4ZM710 1254L712 1254V1272.6L710 1272.6ZM726 1121.8L728 1121.4V1141.4L726 1141.8ZM731 1075.5L733 1075.4V1120.1L731 1120.7ZM733 1233.6L736 1233.2V1252L733 1252.3ZM733 1289.8L736 1289.5V1305.3L733 1305.3ZM736 1175.7L740 1174.9V1193.4L736 1194.1ZM740 1157L743 1156.3V1174.3L740 1174.9ZM740 1174.9L743 1174.3V1192.8L740 1193.4ZM752 1053.3L755 1053.3V1111.9L752 1113.3ZM752 1172.1L755 1171.2V1190L752 1190.8ZM752 1230.5L755 1229.9V1248.9L752 1249.5ZM755 1152.8L757 1152.1V1170.6L755 1171.2ZM757 1267.6L761 1266.8V1285.8L757 1286.5ZM764 1052.4L769 1052.4V1103.9L764 1107.1ZM774 1054.9L777 1054.9V1098.2L774 1100.5ZM777 1055.9L782 1055.9V1094.1L777 1098.2ZM777 1123.1L782 1120.1V1141.2L777 1143.8ZM782 1161.2L785 1159.8V1179.9L782 1181.1ZM785 1139.6L789 1137.3V1157.8L785 1159.8ZM785 1201.7L789 1200.2V1220.3L785 1221.7ZM785 1280.4L789 1279.3V1298.7L785 1299.7ZM789 1200.2L793 1198.6V1218.9L789 1220.3ZM793 1278.2L795 1277.6V1297.1L793 1297.6ZM795 1081.1L799 1076.2V1107.4L795 1110.7ZM795 1110.7L799 1107.4V1130.9L795 1133.6ZM795 1154.6L799 1152.3V1173.4L795 1175.4ZM799 1130.9L802 1128.8V1150.5L799 1152.3ZM806 1274.1L809 1273.1V1292.9L806 1293.8ZM809 1061.3L811 1057.6V1095.9L809 1098ZM818 1115.8L821 1112.9V1137.4L818 1139.7ZM821 1112.9L826 1107.9V1133.4L821 1137.4ZM842 1144.7L847 1140.3V1167.6L842 1171.3ZM851 1164.5L854 1162.1V1186.4L851 1188.5ZM856 1160.2L858 1158.5V1183.3L856 1184.8ZM856 1273.6L858 1272.6V1285L856 1285ZM862 1204.3L864 1202.9V1225.9L862 1227.1ZM862 1227.1L864 1225.9V1248L862 1249.2ZM862 1249.2L864 1248V1269.7L862 1270.7ZM866 1059.5L869 1052.3V1068.7L866 1074.5ZM869 1149L872 1146V1159.6L869 1162.3ZM875 1053.6L878 1053.6V1053.6L875 1059.7ZM875 1169.7L878 1167.1V1192.5L875 1194.8ZM878 1105.8L880 1103V1121.2L878 1123.6ZM878 1139.9L880 1137.7V1152.1L878 1154ZM883 1085.1L887 1077.9V1091.6L883 1098ZM883 1116.8L887 1111.5V1129.2L883 1133.9ZM887 1172L889 1170.2V1183.3L887 1185.1ZM892 1206.4L894 1204.8V1229L892 1230.5ZM900 1129.8L904 1124.6V1140.8L900 1145.4ZM910 1191.4L912 1189.5V1215.4L910 1217ZM912 1130.4L916 1125V1141.5L912 1146.4ZM918 1103.7L920 1100.3V1119.5L918 1122.4ZM920 1119.4L923 1114.9V1132.6L920 1136.6ZM920 1208.4L923 1205.8V1231.3L920 1233.7ZM923 1192.2L925 1190.3V1203.7L923 1205.6ZM925 1191.8L929 1187.9V1201.6L925 1205.3ZM929 1076.7L932 1069.8V1086.5L929 1092.4ZM942 1159L945 1155.3V1170.9L942 1174.3ZM942 1188.9L945 1185.7V1199.9L942 1202.9ZM942 1242.2L945 1239.7V1254.4L942 1254.4ZM951 1078.7L953 1074V1090.8L951 1094.9ZM956 1084.7L960 1075.5V1092.4L956 1100.4ZM960 1153.2L963 1149.1V1165.7L960 1169.5ZM965 1112.3L968 1106.8V1120.7L965 1125.7ZM972 1061.3L975 1061.3V1061.3L972 1066.9ZM975 1196.5L978 1193V1207.8L975 1211.1ZM981 1055.5L984 1045.6V1063.1L981 1071.4ZM981 1085.2L984 1078V1091.2L981 1097.6ZM987 1081L990 1073.4V1091.4L987 1098ZM987 1127.1L990 1121.8V1141.5L987 1146.2ZM990 1074.7L992 1069.3V1088L990 1092.5ZM992 1103L995 1096.7V1112.2L992 1117.9ZM997 1055.2L999 1048.5V1071L997 1076.3ZM1001 1125.4L1004 1119.9V1133.8L1001 1138.8ZM1001 1138.8L1004 1133.8V1152.9L1001 1157.4ZM1004 1154.4L1007 1149.8V1167.8L1004 1172ZM1010 1093.8L1012 1089.1V1105.9L1010 1110ZM1010 1215.4L1012 1213.1V1219.6L1010 1219.6ZM1012 1177.6L1014 1174.8V1192.6L1012 1195.2ZM1016 1097.6L1019 1090.6V1107.4L1016 1113.6ZM1016 1113.6L1019 1107.4V1129.8L1016 1135.1ZM1030 1038.9L1032 1038.9V1045.4L1030 1052.7ZM1030 1079.4L1032 1073.9V1093L1030 1097.8ZM1040 1097.3L1043 1090V1107.5L1040 1114.1ZM1040 1197.3L1043 1193.1V1200.1L1040 1200.1ZM1045 1078.7L1047 1073V1088.1L1045 1093.2ZM1045 1106.3L1047 1101.7V1119.2L1045 1123.3ZM1045 1173.7L1047 1170.6V1189.7L1045 1192.5ZM1047 1087.9L1049 1082.6V1096.8L1047 1101.5ZM1047 1189.6L1049 1186.7V1195.7L1047 1195.7ZM1049 1167.4L1051 1164.2V1183.9L1049 1186.8ZM1056 1153.7L1058 1150.1V1171.1L1056 1174.3ZM1060 1048.8L1062 1040.9V1051.5L1060 1058.6ZM1060 1185.6L1062 1182.6V1186.3L1060 1186.3ZM1063 1113.9L1066 1107.1V1124.6L1063 1130.8ZM1066 1077.7L1068 1071.8V1088.4L1066 1093.7ZM1066 1156.4L1068 1152.9V1174L1066 1177.2ZM1072 1146L1075 1140.3V1162.8L1072 1167.9ZM1072 1167.9L1075 1162.8V1176.9L1072 1176.9ZM1075 1071.7L1077 1065.3V1079.7L1075 1085.4ZM1075 1123.5L1077 1119.1V1135.9L1075 1139.9ZM1075 1139.9L1077 1135.9V1158.9L1075 1162.4ZM1077 1043.2L1080 1029.7V1046.5L1077 1057.8ZM1077 1082.2L1080 1073.3V1095.2L1077 1102.8ZM1080 1049.5L1083 1038.9V1049L1080 1060.1ZM1084 1153.5L1087 1147.8V1162.9L1084 1167.3ZM1096 1093.4L1098 1087.9V1108.5L1096 1113.3ZM1096 1113.3L1098 1108.5V1126.8L1096 1131.1ZM1100 1073.2L1101 1070V1082L1100 1084.9ZM1106 1101.6L1108 1096.2V1111.4L1106 1116.2ZM1108 1036.9L1111 1021.8V1036.2L1108 1049.2ZM1122 1031.3L1124 1020.7V1039.9L1122 1048.5Z"/><path fill="#0063dc" d="M246 1072.1L248 1078.8V1096.7L246 1090.8ZM256 1071.9L259 1081.8V1095.8L256 1086.9ZM262 1088.6L265 1097.3V1110L262 1102ZM276 1129.7L279 1136.3V1142.5L276 1142.5ZM279 1076.1L281 1082.4V1104.3L279 1099ZM281 1141.3L283 1145.5V1146.7L281 1146.7ZM283 1092.5L286 1100.7V1120.3L283 1113.1ZM283 1113.1L286 1120.3V1138L283 1131.5ZM291 1098.4L292 1101.1V1115.8L291 1113.4ZM292 1097.2L294 1102.4V1117L292 1112.2ZM292 1112.2L294 1117V1134.8L292 1130.5ZM294 1104.3L296 1109.3V1123.3L294 1118.7ZM298 1129.9L299 1132.1V1148.6L298 1146.6ZM301 1069.9L304 1079.3V1092.6L301 1084.2ZM307 1045.3L309 1045.3V1055.9L307 1048.3ZM309 1042.3L311 1042.3V1058.1L309 1050.7ZM318 1107L320 1111.8V1129.3L318 1125.1ZM322 1048.5L324 1048.5V1057.7L322 1050.4ZM322 1156.9L324 1160.5V1180.8L322 1178.2ZM324 1068.9L326 1075.1V1088.4L324 1082.9ZM326 1069.3L328 1075.5V1088.7L326 1083.2ZM328 1050.9L331 1054.4V1069.9L328 1060.1ZM331 1067.8L334 1076.9V1093L331 1085ZM331 1100.2L334 1107.4V1125L331 1118.6ZM335 1094.3L337 1099.3V1113.2L335 1108.6ZM337 1113.9L339 1118.3V1134.7L337 1130.7ZM343 1169.8L345 1173V1192.3L343 1189.4ZM345 1073.7L347 1079.4V1099.7L345 1094.8ZM345 1173.3L347 1176.5V1195.5L345 1192.6ZM353 1040.4L355 1040.4V1048.4L353 1040.5ZM353 1091.7L355 1096.6V1114.6L353 1110.3ZM355 1100.2L357 1104.8V1121.9L355 1117.7ZM357 1105.2L360 1111.8V1128.2L357 1122.2ZM360 1063.9L362 1063.9V1078.2L360 1072.6ZM360 1109.5L362 1113.8V1129.9L360 1126ZM362 1129.4L364 1133.2V1147.9L362 1144.4ZM364 1060.7L366 1066.9V1087.2L364 1082ZM366 1063.2L369 1072.3V1091.6L366 1084.1ZM366 1084.1L369 1091.6V1108.7L366 1102ZM366 1118.1L369 1124.1V1146.4L366 1141.2ZM372 1065.3L375 1074.1V1088.6L372 1080.9ZM379 1070.4L381 1076V1090.2L379 1085.3ZM381 1052.2L383 1052.2V1070.8L381 1064.9ZM381 1145.9L383 1149.2V1168.8L381 1165.8ZM381 1165.8L383 1168.8V1187L381 1184.3ZM385 1118.3L387 1122.2V1142.7L385 1139.3ZM390 1129.5L393 1134.8V1153.9L390 1149.2ZM393 1102.9L396 1109.1V1123.8L393 1118.2ZM396 1096.9L399 1103.4V1125.5L396 1120ZM403 1084.2L406 1084.2V1100.9L403 1094.4ZM406 1085.3L409 1092.2V1108.1L406 1102ZM409 1056.5L412 1065.4V1077.4L409 1069.5ZM409 1119.2L412 1124.5V1143.9L409 1139.2ZM412 1080.4L415 1087.5V1103.7L412 1097.5ZM412 1195.9L415 1199.4V1215.1L412 1211.8ZM415 1064.1L418 1064.6V1079.2L415 1071.6ZM418 1182.5L420 1184.9V1200.2L418 1197.9ZM418 1213.5L420 1215.7V1230.6L418 1228.6ZM420 1059.6L422 1065.4V1079.8L420 1074.9ZM422 1050.2L425 1050.2V1067.2L422 1058.7ZM428 1053.6L430 1053.6V1060L428 1054ZM428 1107.3L430 1111V1131.1L428 1127.8ZM428 1127.8L430 1131.1V1149.2L428 1146.4ZM440 1106.6L444 1113.8V1133L440 1126.8ZM444 1134.8L446 1137.8V1154.8L444 1152.2ZM449 1123.8L451 1126.9V1144.7L449 1141.9ZM451 1126.8L453 1129.9V1147.3L451 1144.6ZM459 1034.7L462 1039.9V1057.4L459 1048.5ZM462 1188.2L465 1191.3V1205L462 1202.1ZM462 1202.1L465 1205V1218.3L462 1215.5ZM467 1078.5L470 1084.8V1099.7L467 1094.2ZM467 1193.9L470 1196.8V1223.2L467 1220.6ZM470 1088.2L472 1092.1V1106.1L470 1102.7ZM470 1155.5L472 1157.9V1172.9L470 1170.7ZM470 1198.9L472 1200.8V1226.8L470 1225.1ZM475 1054L478 1062.1V1073.9L475 1066.9ZM475 1162L478 1165.4V1179.8L475 1176.7ZM484 1171.2L487 1174.3V1188.1L484 1185.2ZM491 1149L493 1151.3V1165.9L491 1163.8ZM498 1158.1L500 1160.2V1174.1L498 1172.2ZM500 1130.1L503 1133.8V1149.1L500 1145.8ZM500 1145.8L503 1149.1V1163.5L500 1160.4ZM510 1051.2L513 1051.2V1059.2L510 1051.5ZM510 1139.5L513 1142.9V1157.2L510 1154.2ZM510 1168L513 1170.8V1184L510 1181.3ZM513 1109.4L517 1114.9V1132.2L513 1127.4ZM517 1115.1L520 1119V1135.8L517 1132.4ZM517 1147.1L520 1150.2V1164L517 1161.1ZM520 1119.1L523 1122.8V1139.1L520 1135.9ZM520 1237.3L523 1239.3V1261.6L520 1259.8ZM533 1134.7L537 1138.8V1153.6L533 1149.8ZM533 1175.9L537 1179.1V1203L533 1200.2ZM533 1267.6L537 1269.7V1285.1L533 1285.1ZM545 1118.1L549 1122.5V1136.2L545 1132.3ZM545 1185.5L549 1188.3V1211.3L545 1208.8ZM549 1107.8L552 1111.3V1125.6L549 1122.5ZM559 1089.2L562 1093.2V1121.9L559 1118.8ZM559 1171.6L562 1173.7V1196.7L559 1194.8ZM562 1093.2L565 1097V1124.8L562 1121.9ZM562 1196.7L565 1198.5V1220.4L562 1218.7ZM565 1198.5L569 1200.8V1222.5L565 1220.4ZM565 1241.7L569 1243.6V1264.3L565 1262.5ZM573 1180.9L578 1183.9V1205.7L573 1203ZM578 1111.4L581 1114.3V1138.5L578 1136.2ZM578 1159.5L581 1161.5V1185.7L578 1183.9ZM578 1205.7L581 1207.2V1228.3L578 1226.9ZM581 1207.2L583 1208.2V1229.2L581 1228.3ZM583 1162.8L586 1164.7V1188.4L583 1186.8ZM596 1193.4L599 1194.9V1215.5L596 1214.2ZM599 1105.1L603 1108.6V1131.9L599 1129.1ZM599 1295.2L603 1296.3V1299.2L599 1299.2ZM607 1155.4L611 1157.5V1177.9L607 1176.1ZM607 1258.4L611 1259.6V1279.1L607 1278ZM611 1177.9L613 1178.8V1200.8L611 1200ZM618 1119.7L622 1122.2V1143L618 1140.9ZM618 1261.7L622 1262.7V1282L618 1281ZM622 1097L627 1100.8V1125.1L622 1122.2ZM622 1122.2L627 1125.1V1145.4L622 1143ZM631 1057.4L634 1057.4V1105.5L631 1103.5ZM636 1187.3L641 1188.8V1209.6L636 1208.3ZM641 1109.5L644 1111.1V1133.1L641 1131.9ZM644 1057.5L648 1057.5V1113L644 1111.1ZM653 1136.4L656 1137.4V1155.9L653 1155ZM661 1157.1L665 1158V1175.8L661 1175ZM665 1175.8L667 1176.2V1194.4L665 1194.1ZM665 1214.4L667 1214.7V1233.5L665 1233.2ZM671 1141.1L674 1141.7V1159.6L671 1159.1ZM674 1079.9L678 1080.8V1122.5L674 1121.7ZM678 1216L683 1216.4V1235L678 1234.7ZM683 1083.7L686 1083.9V1123.7L683 1123.3ZM686 1084.9L690 1084.9V1124.1L686 1123.7ZM690 1086L694 1086V1124.3L690 1124.1ZM694 1086.5L698 1086.5V1124.5L694 1124.3ZM694 1124.3L698 1124.5V1144L694 1143.9ZM694 1272.7L698 1272.8V1291.4L694 1291.3ZM698 1161.6H702V1179H698ZM702 1124.5H704V1144H702ZM712 1196.7L715 1196.5V1216.6L712 1216.7ZM712 1216.7L715 1216.6V1235.2L712 1235.3ZM718 1160.7L723 1160.1V1177.7L718 1178.2ZM718 1178.2L723 1177.7V1195.8L718 1196.3ZM723 1142.3L726 1141.8V1159.7L723 1160.1ZM726 1141.8L728 1141.4V1159.4L726 1159.7ZM728 1121.4L731 1120.7V1140.9L728 1141.4ZM728 1177L731 1176.6V1194.8L728 1195.2ZM733 1176.3L736 1175.7V1194.1L733 1194.5ZM733 1194.5L736 1194.1V1214.4L733 1214.8ZM736 1157.9L740 1157V1174.9L736 1175.7ZM743 1192.8L747 1191.9V1212.5L743 1213.2ZM747 1173.4L750 1172.6V1191.3L747 1191.9ZM755 1171.2L757 1170.6V1189.5L755 1190ZM755 1210.8L757 1210.3V1229.5L755 1229.9ZM757 1170.6L761 1169.4V1188.4L757 1189.5ZM769 1185.9L774 1184.2V1205.5L769 1207.1ZM777 1163.4L782 1161.2V1181.1L777 1183.1ZM782 1202.8L785 1201.7V1221.7L782 1222.7ZM793 1112.3L795 1110.7V1133.6L793 1134.9ZM799 1173.4L802 1171.9V1194.7L799 1196ZM799 1196L802 1194.7V1215.3L799 1216.5ZM802 1104.7L806 1101V1125.8L802 1128.8ZM802 1171.9L806 1169.7V1192.8L802 1194.7ZM806 1055.3L809 1055.3V1061.3L806 1066.3ZM806 1125.8L809 1123.5V1146.1L806 1148.1ZM806 1169.7L809 1168V1191.3L806 1192.8ZM815 1164.4L818 1162.6V1186.6L815 1188.2ZM815 1250.8L818 1249.5V1269.8L815 1270.9ZM818 1249.5L821 1248.3V1268.6L818 1269.8ZM821 1137.4L826 1133.4V1157.2L821 1160.6ZM826 1076.9L829 1072.3V1104.7L826 1107.9ZM826 1225.3L829 1223.8V1244.8L826 1246.1ZM829 1062.7L831 1062.7V1069L829 1072.3ZM836 1050.7L840 1050.7V1050.9L836 1059.7ZM836 1149.7L840 1146.4V1172.8L836 1175.5ZM836 1198.2L840 1195.8V1218L836 1220.2ZM842 1171.3L847 1167.6V1191.3L842 1194.5ZM842 1216.8L847 1213.9V1235.8L842 1238.4ZM856 1146.1L858 1144.3V1158.5L856 1160.2ZM862 1125.2L864 1123V1138.6L862 1140.6ZM862 1140.6L864 1138.6V1153.4L862 1155.2ZM862 1270.7L864 1269.7V1283.3L862 1283.3ZM866 1105L869 1100.9V1117.1L866 1120.7ZM869 1162.3L872 1159.6V1172.7L869 1175.2ZM878 1123.6L880 1121.2V1137.7L878 1139.9ZM878 1167.5L880 1165.7V1191.4L878 1192.9ZM880 1137.8L883 1134.4V1149L880 1152.1ZM880 1261.1L883 1259.3V1277.8L880 1277.8ZM883 1258.9L887 1256.5V1276.7L883 1276.7ZM887 1129.1L889 1126.7V1142L887 1144.2ZM887 1185.1L889 1183.3V1208.4L887 1209.9ZM889 1108.9L892 1104.5V1123.2L889 1127ZM889 1127L892 1123.2V1138.9L889 1142.3ZM898 1088.2L900 1084.5V1099.3L898 1102.5ZM898 1132.2L900 1129.7V1145.3L898 1147.6ZM898 1175.8L900 1173.9V1200.1L898 1201.8ZM910 1116.1L912 1113.2V1130.6L910 1133.3ZM910 1217L912 1215.4V1239.9L910 1241.4ZM912 1215.2L916 1211.8V1236.7L912 1239.7ZM916 1041L918 1041V1051.5L916 1057.1ZM916 1057.1L918 1051.5V1067.5L916 1072.1ZM916 1236.2L918 1234.7V1258.6L916 1260.1ZM918 1036.5L920 1036.5V1047.2L918 1053.2ZM920 1195.3L923 1192.4V1205.8L920 1208.4ZM929 1187.4L932 1184.3V1198.2L929 1201.1ZM938 1146.8L942 1141.4V1157.8L938 1162.7ZM948 1197.2L951 1194.1V1208.1L948 1211.1ZM951 1109.3L953 1105.7V1125.6L951 1128.7ZM953 1176.2L956 1172.7V1187.7L953 1191ZM956 1156.5L960 1151.2V1167.6L956 1172.5ZM956 1229.3L960 1225.5V1239.6L956 1243.2ZM960 1169.5L963 1165.7V1181.3L960 1184.8ZM960 1213.5L963 1210.5V1224.3L960 1227.1ZM963 1131.2L965 1128V1146.2L963 1149ZM965 1144.1L968 1139.7V1157.1L965 1161.1ZM968 1108.6L972 1100.9V1115.4L968 1122.3ZM968 1141.2L972 1135V1153L968 1158.5ZM978 1086.1L981 1079.1V1096.2L978 1102.3ZM978 1142.8L981 1138.1V1156.1L978 1160.3ZM981 1139.3L984 1134.5V1152.9L981 1157.2ZM995 1112.1L997 1108.1V1129.5L995 1133ZM995 1202.3L997 1200V1216L995 1218.2ZM999 1091.5L1001 1086.9V1103.6L999 1107.7ZM999 1107.7L1001 1103.6V1125.7L999 1129.2ZM1001 1192.1L1004 1188.3V1205L1001 1208.6ZM1007 1102.3L1010 1095.7V1111.7L1007 1117.6ZM1007 1186.9L1010 1182.9V1200.1L1007 1203.8ZM1027 1047.2L1030 1037.2V1052.1L1027 1062ZM1027 1075L1030 1066.3V1078.9L1027 1086.7ZM1030 1150.8L1032 1147.5V1167.7L1030 1170.8ZM1032 1038.3L1035 1034.9V1043.7L1032 1054.7ZM1032 1068.6L1035 1059.2V1072.7L1032 1081ZM1035 1148L1037 1144.5V1165.2L1035 1168.3ZM1035 1187.2L1037 1184.4V1202.4L1035 1203.8ZM1047 1069.2L1049 1069.2V1069.2L1047 1072.8ZM1051 1180.8L1054 1176.2V1192.5L1051 1192.5ZM1058 1140.6L1060 1136.8V1151.8L1058 1155.3ZM1060 1076.8L1062 1070.8V1087.4L1060 1092.7ZM1062 1041L1063 1039.7V1047.8L1062 1051.6ZM1063 1068.1L1066 1058.2V1076.6L1063 1085.1ZM1063 1181.2L1066 1176.5V1183.7L1063 1183.7ZM1077 1121.1L1080 1114.4V1131.7L1077 1137.8ZM1077 1137.8L1080 1131.7V1155.2L1077 1160.5ZM1091 1107.6L1093 1102.7V1121.4L1091 1125.9ZM1093 1067L1094 1063.6V1081.9L1093 1084.9ZM1094 1059.9L1096 1052.5V1068.8L1094 1075.2ZM1098 1043.8L1100 1034.9V1054.1L1098 1061.4ZM1098 1145.3L1100 1141.3V1155.9L1098 1155.9ZM1164 1058.4L1167 1046V1061.7L1164 1072.6Z"/><path fill="#0077ec" d="M216 1029L218 1039.1V1063.6L216 1055.7ZM244 1067.5L246 1073.7V1092.2L244 1086.1ZM273 1058L276 1058V1066.8L273 1058ZM273 1076.1L276 1085.5V1102L273 1093.7ZM276 1068.1L279 1075.1V1092.6L276 1083.8ZM279 1137L281 1141.3V1144.8L279 1144.8ZM281 1022.3L283 1022.3V1032.2L281 1022.3ZM283 1080.1L286 1087.7V1100.7L283 1092.5ZM286 1119.4L288 1124.1V1141.5L286 1137.3ZM294 1118.7L296 1123.3V1140.6L294 1136.4ZM296 1108.4L298 1113.3V1127L296 1122.5ZM301 1141L304 1147V1164.5L301 1164.4ZM304 1093.6L307 1101.5V1120.4L304 1113.4ZM304 1147.7L307 1153.5V1166.9L304 1166.9ZM311 1112.9L313 1117.5V1134.8L311 1130.6ZM316 1123.5L318 1127.8V1144.1L316 1140.2ZM328 1075L331 1083.7V1096.1L328 1088.2ZM328 1088.2L331 1096.1V1114.9L328 1108ZM335 1038.3L337 1038.3V1046.8L335 1038.6ZM335 1142L337 1145.7V1160.3L335 1156.9ZM341 1103L343 1107.6V1124.9L341 1120.7ZM343 1108.2L345 1112.7V1129.5L343 1125.4ZM347 1049.1L349 1049.1V1057.2L347 1050ZM347 1078.1L349 1083.6V1103.2L347 1098.5ZM349 1118.3L351 1122.4V1138.2L349 1134.4ZM351 1090.5L353 1095.5V1113.6L351 1109.2ZM353 1127L355 1130.9V1145.9L353 1142.3ZM355 1053.6L357 1060.4V1076.9L355 1071.2ZM357 1046.5L360 1052.7V1075.6L357 1066.7ZM364 1082L366 1087.2V1104.8L364 1100.3ZM369 1093.2L372 1100.2V1116.3L369 1110ZM372 1099.1L375 1105.8V1121.3L372 1115.3ZM383 1117.1L385 1121V1141.7L383 1138.3ZM383 1176.6L385 1179.4V1196.9L383 1194.4ZM393 1099L396 1099V1109.1L393 1102.9ZM393 1118.2L396 1123.8V1137.4L393 1132.3ZM393 1132.3L396 1137.4V1156.3L393 1151.7ZM396 1079.2L399 1086.6V1103.4L396 1096.9ZM396 1140.5L399 1145.4V1163.5L396 1159.1ZM399 1029.3L403 1032.3V1043.3L399 1029.3ZM406 1054.1L409 1061.9V1074.3L406 1066.1ZM406 1137.4L409 1142.3V1160.3L406 1156ZM409 1088.1L412 1094.8V1110.3L409 1104.4ZM412 1097.5L415 1103.7V1118.3L412 1112.7ZM418 1166.3L420 1169V1184.9L418 1182.5ZM420 1074.9L422 1079.8V1092.7L420 1088.3ZM420 1088.3L422 1092.7V1115.3L420 1111.6ZM420 1150.4L422 1153.3V1170.2L420 1167.5ZM420 1198.8L422 1201.1V1216.5L420 1214.4ZM422 1095.7L425 1101.8V1123.1L422 1117.9ZM425 1101.6L428 1107.4V1127.9L425 1122.9ZM425 1159.4L428 1163.5V1179.6L425 1175.8ZM428 1054L430 1060V1079.5L428 1074.6ZM428 1074.6L430 1079.5V1096.1L428 1091.9ZM428 1091.9L430 1096.1V1111L428 1107.3ZM428 1146.4L430 1149.2V1166.1L428 1163.4ZM430 1059.6L432 1065.3V1083.8L430 1079.1ZM430 1110.8L432 1114.4V1134L430 1130.8ZM430 1181.7L432 1184.1V1199L430 1196.8ZM432 1114.6L434 1118.1V1137.2L432 1134.1ZM432 1168.6L434 1171.1V1186.6L432 1184.2ZM434 1135.8L437 1140.3V1157.5L434 1153.5ZM444 1063.3L446 1064.2V1082.5L444 1077.9ZM449 1174.2L451 1176.5V1191.2L449 1189ZM459 1139.2L462 1143.3V1159.4L459 1155.7ZM462 1105.5L465 1110.6V1129.3L462 1124.8ZM462 1142.3L465 1146.3V1162.1L462 1158.5ZM467 1149.4L470 1153.2V1168.5L467 1165ZM467 1179.8L470 1182.9V1196.8L467 1193.9ZM478 1232L481 1234.4V1258.5L478 1256.3ZM493 1052.7L495 1052.7V1055.7L493 1052.7ZM495 1154.9L498 1158.1V1172.3L495 1169.3ZM498 1172.2L500 1174.1V1200.4L498 1198.7ZM500 1160.4L503 1163.5V1177.2L500 1174.3ZM503 1093.8L506 1098.8V1118.2L503 1114.1ZM503 1160.7L506 1163.7V1177.4L503 1174.5ZM506 1134.7L510 1139.3V1154L506 1149.8ZM510 1051.5L513 1059.2V1075.5L510 1069.4ZM526 1092.2L529 1096.8V1113.6L526 1109.7ZM529 1096.5L531 1099.4V1115.9L529 1113.3ZM531 1064.5L533 1064.5V1070.7L531 1066.7ZM531 1198.5L533 1199.9V1223.2L531 1221.9ZM531 1244.4L533 1245.6V1267.4L531 1266.3ZM541 1143.2L545 1147V1161L541 1157.6ZM545 1052.6L549 1052.6V1062.9L545 1054.1ZM545 1274.2L549 1276.1V1288.3L545 1288.3ZM549 1136.2L552 1139.1V1153.1L549 1150.5ZM549 1164.2L552 1166.6V1190.4L549 1188.4ZM555 1114.6L559 1118.9V1145.1L555 1141.7ZM555 1192.3L559 1194.9V1217.1L555 1214.8ZM555 1257.9L559 1259.8V1280.5L555 1278.8ZM562 1261.2L565 1262.5V1283.1L562 1281.8ZM565 1175.8L569 1178.4V1200.8L565 1198.5ZM573 1156L578 1159.5V1183.9L573 1180.9ZM578 1136.2L581 1138.5V1161.5L578 1159.5ZM581 1138.5L583 1140V1162.8L581 1161.5ZM581 1228.3L583 1229.2V1249.7L581 1248.9ZM589 1252.1L591 1252.9V1272.9L589 1272.2ZM596 1170.5L599 1172.1V1194.9L596 1193.4ZM603 1174.1L607 1176.1V1198.4L603 1196.6ZM607 1082.7L611 1087V1114.8L607 1111.8ZM613 1299L618 1300.3V1301.3L613 1301.3ZM627 1057.4L631 1057.4V1103.5L627 1100.8ZM641 1056.2L644 1056.2V1111.1L641 1109.5ZM653 1155L656 1155.9V1173.9L653 1173.2ZM653 1173.2L656 1173.9V1192.5L653 1191.8ZM653 1191.8L656 1192.5V1212.9L653 1212.3ZM656 1116.4L659 1117.5V1138.3L656 1137.4ZM656 1137.4L659 1138.3V1156.6L656 1155.9ZM656 1192.5L659 1193.1V1213.5L656 1212.9ZM659 1138.3L661 1138.8V1157.1L659 1156.6ZM659 1174.6L661 1175V1193.4L659 1193.1ZM661 1270.3L665 1270.8V1289.5L661 1289.1ZM665 1158L667 1158.4V1176.2L665 1175.8ZM667 1289.7L671 1290.1V1305.9L667 1305.9ZM678 1142.3L683 1143V1160.7L678 1160.2ZM686 1178.5L690 1178.7V1196.8L686 1196.5ZM694 1178.9L698 1179V1197L694 1196.9ZM698 1197H702V1217H698ZM702 1086.8H704V1124.4H702ZM702 1144H704V1161.6H702ZM708 1178.8L710 1178.8V1196.8L708 1196.9ZM710 1085.1L712 1084.9V1124L710 1124.1ZM710 1196.8L712 1196.7V1216.7L710 1216.8ZM710 1216.8L712 1216.7V1235.3L710 1235.4ZM712 1143.5L715 1143.3V1161L712 1161.2ZM715 1123.6L718 1123.2V1143L715 1143.3ZM718 1082.8L723 1082.5V1122.4L718 1123.2ZM731 1176.6L733 1176.3V1194.5L731 1194.8ZM736 1071L740 1069.6V1118L736 1119.3ZM736 1233.2L740 1232.6V1251.4L736 1252ZM740 1066.4L743 1064.6V1117L740 1118ZM750 1114.2L752 1113.3V1134.9L750 1135.6ZM750 1154.4L752 1153.7V1172.1L750 1172.6ZM755 1053.4L757 1053.4V1110.9L755 1111.9ZM757 1133L761 1131.3V1150.7L757 1152.1ZM761 1169.4L764 1168.4V1187.5L761 1188.4ZM764 1129.9L769 1127.5V1147.5L764 1149.5ZM769 1166.6L774 1164.6V1184.2L769 1185.9ZM774 1184.2L777 1183.1V1204.6L774 1205.5ZM785 1159.8L789 1157.8V1178.2L785 1179.9ZM785 1179.9L789 1178.2V1200.2L785 1201.7ZM795 1197.8L799 1196V1216.5L795 1218.1ZM799 1055.5L802 1055.5V1072.2L799 1076.2ZM799 1107.4L802 1104.7V1128.8L799 1130.9ZM802 1045.2L806 1045.2V1066.3L802 1072.2ZM802 1255.6L806 1254.2V1274.1L802 1275.4ZM809 1123.5L811 1121.9V1144.7L809 1146.1ZM809 1191.3L811 1190.3V1211.4L809 1212.3ZM811 1144.7L815 1141.9V1164.4L811 1166.8ZM811 1190.3L815 1188.2V1209.5L811 1211.4ZM815 1270.9L818 1269.8V1289.8L815 1290.9ZM821 1160.6L826 1157.2V1181.9L821 1184.9ZM821 1184.9L826 1181.9V1203.9L821 1206.5ZM821 1248.3L826 1246.1V1266.6L821 1268.6ZM826 1133.4L829 1130.8V1155L826 1157.2ZM829 1072.3L831 1069V1102.5L829 1104.7ZM829 1130.8L831 1129.1V1153.5L829 1155ZM829 1155L831 1153.5V1178.8L829 1180.1ZM831 1264.5L836 1262.3V1282.9L831 1284.9ZM836 1220.2L840 1218V1239.5L836 1241.5ZM836 1241.5L840 1239.5V1260.5L836 1262.3ZM836 1262.3L840 1260.5V1281.2L836 1282.9ZM842 1280.3L847 1278.1V1288.2L842 1288.2ZM847 1140.3L851 1136.6V1164.5L847 1167.6ZM847 1167.6L851 1164.5V1188.5L847 1191.3ZM847 1235.8L851 1233.6V1255.1L847 1257.1ZM851 1276.2L854 1274.7V1286.2L851 1286.2ZM858 1229.3L862 1226.9V1249L858 1251.2ZM862 1110.1L864 1107.6V1123L862 1125.2ZM869 1199.6L872 1197.4V1221L869 1222.9ZM872 1113.7L875 1109.8V1127L872 1130.4ZM875 1126.6L878 1123V1139.4L875 1142.6ZM878 1154L880 1152.1V1165.7L878 1167.5ZM880 1152.1L883 1149V1162.9L880 1165.7ZM880 1191.4L883 1189V1213.4L880 1215.6ZM883 1133.9L887 1129.2V1144.3L883 1148.5ZM883 1162.5L887 1158.6V1185.2L883 1188.5ZM883 1188.5L887 1185.2V1210L883 1213ZM889 1183.6L892 1181V1206.3L889 1208.6ZM892 1139.1L894 1136.7V1151.7L892 1153.8ZM900 1160L904 1155.8V1170.1L900 1174ZM900 1270.9L904 1268.8V1270.9L900 1270.9ZM910 1163.8L912 1161.7V1175.8L910 1177.8ZM916 1184.9L918 1183V1209.6L916 1211.3ZM923 1231.1L925 1229.5V1253.9L923 1255.4ZM935 1135.2L938 1131V1147.9L935 1151.8ZM948 1102.4L951 1096.8V1111.1L948 1116.1ZM951 1178.2L953 1175.9V1190.7L951 1192.8ZM953 1106.2L956 1100.7V1121.3L953 1126.1ZM953 1232.2L956 1229.4V1243.3L953 1245.9ZM956 1172.5L960 1167.6V1183L956 1187.5ZM960 1095.2L963 1089V1111.4L960 1116.7ZM960 1199.5L963 1196.2V1210.5L960 1213.5ZM965 1067.7L968 1059.3V1074.4L965 1081.5ZM965 1081.5L968 1074.4V1091.6L965 1097.8ZM968 1076.6L972 1066.3V1084.8L968 1093.5ZM968 1158.5L972 1153V1169.6L968 1174.7ZM968 1190L972 1185.4V1200.3L968 1204.7ZM972 1115.8L975 1110.4V1130.7L972 1135.4ZM972 1153.3L975 1149.1V1166.1L972 1170ZM975 1148.2L978 1143.7V1161.2L975 1165.2ZM978 1123.6L981 1118.4V1138.1L978 1142.8ZM981 1220L984 1216.8V1231.9L981 1234.8ZM984 1119L987 1113.5V1127.4L984 1132.4ZM984 1132.4L987 1127.4V1146.5L984 1151ZM984 1184.3L987 1180.5V1196.1L984 1199.6ZM990 1122.7L992 1119.1V1139.1L990 1142.3ZM995 1151.9L997 1148.8V1166.5L995 1169.3ZM995 1169.3L997 1166.5V1183.2L995 1185.8ZM997 1168L999 1165.2V1182L997 1184.6ZM1004 1076.7L1007 1068.5V1083.3L1004 1090.5ZM1004 1172L1007 1167.8V1185.7L1004 1189.6ZM1004 1189.6L1007 1185.7V1202.7L1004 1206.3ZM1007 1070.7L1010 1062V1077.6L1007 1085.2ZM1007 1117.6L1010 1111.7V1126.3L1007 1131.7ZM1010 1110L1012 1105.9V1121L1010 1124.8ZM1010 1144.9L1012 1141.6V1160.4L1010 1163.4ZM1012 1086.9L1014 1081.9V1099.6L1012 1103.9ZM1012 1103.9L1014 1099.6V1115.4L1012 1119.3ZM1012 1211.8L1014 1209.4V1218.4L1012 1218.4ZM1019 1148.8L1022 1143.8V1163.9L1019 1168.4ZM1022 1074L1025 1065.3V1080.8L1022 1088.4ZM1025 1041.9L1027 1039.9V1054.4L1025 1061ZM1025 1077.1L1027 1071.5V1086.3L1025 1091.3ZM1027 1037.2L1030 1037.2V1037.2L1027 1047.2ZM1032 1190.6L1035 1186.4V1204.2L1032 1205.5ZM1035 1203.8L1037 1202.4V1203.8L1035 1203.8ZM1047 1170.4L1049 1167.3V1186.7L1047 1189.6ZM1054 1155.6L1055 1153.9V1174.5L1054 1176.1ZM1056 1114.4L1058 1110V1127L1056 1131ZM1060 1165.7L1062 1162.3V1182.6L1060 1185.6ZM1062 1182.6L1063 1181.1V1185.2L1062 1185.2ZM1063 1160.9L1066 1155.7V1176.5L1063 1181.2ZM1070 1171.7L1072 1168.4V1178.8L1070 1178.8ZM1096 1147.5L1098 1143.6V1157.6L1096 1157.6ZM1100 1060.2L1101 1056.6V1070L1100 1073.2ZM1106 1085.5L1108 1079.5V1096.2L1106 1101.6ZM1108 1096.1L1111 1087.7V1103.7L1108 1111.2ZM1167 1047.8L1169 1038.8V1055.5L1167 1063.3Z"/><path fill="#008dfd" d="M267 1066.6L270 1069.8V1088.3L267 1079.1ZM270 1063L271 1066.6V1085.4L270 1082.3ZM276 1083.8L279 1092.6V1108.4L276 1100.5ZM279 1063.1L281 1070V1082.4L279 1076.1ZM279 1099L281 1104.3V1123.7L279 1119ZM283 1080.1L286 1080.1V1087.7L283 1080.1ZM286 1081.9L288 1081.9V1092.4L286 1086.6ZM286 1086.6L288 1092.4V1105L286 1099.7ZM313 1115L316 1121.8V1138.6L313 1132.5ZM318 1125.1L320 1129.3V1145.4L318 1141.6ZM326 1043.7L328 1043.7V1060.7L326 1053.6ZM326 1161L328 1164.4V1183.8L326 1181.7ZM328 1164.1L331 1169.1V1185.7L328 1184.6ZM335 1078.5L337 1084.1V1099.3L335 1094.3ZM335 1108.6L337 1113.2V1130.1L335 1126ZM335 1177.6L337 1180.7V1190.4L335 1190.4ZM341 1045.9L343 1045.9V1055.7L341 1048.4ZM343 1041L345 1048.9V1061.6L343 1054.8ZM349 1195.7L351 1198.5V1200.2L349 1200.2ZM360 1072.6L362 1078.2V1097.1L360 1092.2ZM381 1102.5L383 1106.8V1129.2L381 1125.5ZM385 1065.6L387 1071.4V1090.4L385 1085.5ZM390 1167.4L393 1171.7V1189.4L390 1185.5ZM396 1159.1L399 1163.5V1180.5L396 1176.5ZM399 1063.3L403 1074.5V1092.6L399 1083.2ZM399 1083.2L403 1092.6V1108.7L399 1100.4ZM399 1143L403 1149.3V1167L399 1161.3ZM403 1110.3L406 1116V1136.5L403 1131.4ZM403 1168.2L406 1172.3V1188.6L403 1184.8ZM406 1102L409 1108.1V1122.6L406 1117.1ZM406 1117.1L409 1122.6V1142.3L406 1137.4ZM409 1157.5L412 1161.8V1178.4L409 1174.5ZM412 1065.7L415 1073.8V1087.5L412 1080.4ZM415 1071.6L418 1079.2V1092.3L415 1085.5ZM415 1130.3L418 1135.2V1153.5L415 1149.1ZM418 1130.4L420 1133.7V1152L418 1149ZM420 1132L422 1135.2V1153.3L420 1150.4ZM422 1137.6L425 1142.2V1159.6L422 1155.5ZM422 1155.5L425 1159.6V1176L422 1172.2ZM422 1172.2L425 1176V1191.5L422 1187.9ZM430 1149L432 1151.8V1168.4L430 1165.8ZM430 1165.8L432 1168.4V1184.1L430 1181.7ZM432 1100.1L434 1104V1118.1L432 1114.6ZM434 1068.6L437 1076.1V1093L434 1086.5ZM437 1157.8L440 1161.7V1177.4L437 1173.8ZM444 1077.9L446 1082.5V1098.3L444 1094.4ZM446 1080.9L449 1087.5V1102.7L446 1097ZM446 1136.7L449 1141V1157.7L446 1153.8ZM451 1092.6L453 1096.6V1110.8L451 1107.3ZM453 1130L456 1134.4V1151.4L453 1147.5ZM453 1163.6L456 1167.2V1182.2L453 1178.9ZM453 1193.4L456 1196.5V1210.3L453 1207.4ZM481 1077.3L484 1077.3V1085.6L481 1079.6ZM493 1152.7L495 1154.9V1169.3L493 1167.2ZM498 1143.2L500 1145.6V1160.2L498 1158.1ZM506 1164L510 1167.9V1181.2L506 1177.6ZM523 1087.2L526 1092V1109.5L523 1105.4ZM523 1123.2L526 1126.7V1142.7L523 1139.5ZM531 1132.2L533 1134.4V1149.5L531 1147.6ZM531 1173.9L533 1175.6V1199.9L531 1198.5ZM537 1153.5L539 1155.3V1180.6L537 1179ZM537 1225.9L539 1227.1V1249.2L537 1248.1ZM549 1150.5L552 1153.1V1166.6L549 1164.2ZM555 1168.7L559 1171.7V1194.9L555 1192.3ZM559 1118.8L562 1121.9V1147.6L559 1145.1ZM562 1147.6L565 1150V1175.8L562 1173.7ZM562 1173.7L565 1175.8V1198.5L562 1196.7ZM578 1183.9L581 1185.7V1207.2L578 1205.7ZM586 1164.7L589 1166.5V1190L586 1188.4ZM589 1144.3L591 1145.7V1167.7L589 1166.5ZM589 1166.5L591 1167.7V1191L589 1190ZM591 1167.7L596 1170.5V1193.4L591 1191ZM599 1150.8L603 1153.1V1174.1L599 1172.1ZM603 1032.9L607 1032.9V1082.7L603 1078ZM613 1200.8L618 1202.6V1222.5L613 1220.8ZM618 1160.9L622 1162.7V1182.5L618 1180.9ZM622 1055.1L627 1055.1V1100.8L622 1097ZM636 1168.2L641 1169.8V1188.8L636 1187.3ZM648 1054.8L653 1054.8V1115.2L648 1113ZM648 1171.9L653 1173.2V1191.8L648 1190.6ZM656 1269.6L659 1270V1288.8L656 1288.4ZM659 1193.1L661 1193.4V1213.8L659 1213.5ZM661 1138.8L665 1139.8V1158L661 1157.1ZM665 1194.1L667 1194.4V1214.7L665 1214.4ZM665 1270.8L667 1271V1289.7L665 1289.5ZM667 1140.3L671 1141.1V1159.1L667 1158.4ZM671 1176.8L674 1177.2V1195.4L671 1195ZM671 1215.2L674 1215.6V1234.3L671 1234ZM678 1082.1L683 1082.9V1123.3L678 1122.5ZM678 1177.7L683 1178.2V1196.3L678 1195.9ZM690 1196.8L694 1196.9V1216.9L690 1216.8ZM715 1143.3L718 1143V1160.7L715 1161ZM715 1161L718 1160.7V1178.2L715 1178.4ZM718 1196.3L723 1195.8V1215.9L718 1216.4ZM723 1195.8L726 1195.5V1215.6L723 1215.9ZM733 1214.8L736 1214.4V1233.2L733 1233.6ZM736 1194.1L740 1193.4V1213.7L736 1214.4ZM743 1062L747 1059V1115.5L743 1117ZM747 1053.9L750 1052.9V1114.2L747 1115.5ZM750 1172.6L752 1172.1V1190.8L750 1191.3ZM750 1211.9L752 1211.4V1230.5L750 1230.9ZM752 1190.8L755 1190V1210.8L752 1211.4ZM755 1111.9L757 1110.9V1133L755 1133.8ZM761 1056.2L764 1056.2V1107.1L761 1108.8ZM764 1187.5L769 1185.9V1207.1L764 1208.5ZM777 1183.1L782 1181.1V1202.8L777 1204.6ZM789 1115.3L793 1112.3V1134.9L789 1137.3ZM793 1155.7L795 1154.6V1175.4L793 1176.3ZM793 1198.6L795 1197.8V1218.1L793 1218.9ZM795 1175.4L799 1173.4V1196L795 1197.8ZM799 1152.3L802 1150.5V1171.9L799 1173.4ZM806 1148.1L809 1146.1V1168L806 1169.7ZM806 1213.6L809 1212.3V1232.9L806 1234.1ZM809 1146.1L811 1144.7V1166.8L809 1168ZM811 1095.9L815 1091.4V1118.5L811 1121.9ZM811 1166.8L815 1164.4V1188.2L811 1190.3ZM815 1230.3L818 1229V1249.5L815 1250.8ZM818 1162.6L821 1160.6V1184.9L818 1186.6ZM821 1084L826 1076.9V1107.9L821 1112.9ZM826 1038.3L829 1038.3V1072.3L826 1076.9ZM826 1107.9L829 1104.7V1130.8L826 1133.4ZM836 1124.4L840 1120.5V1146.4L836 1149.7ZM851 1150.8L854 1148.2V1162.1L851 1164.5ZM851 1211.5L854 1209.6V1231.9L851 1233.6ZM858 1158.5L862 1154.9V1180.3L858 1183.3ZM862 1048.9L864 1048.9V1048.9L862 1051.7ZM866 1136.6L869 1133.4V1148.7L866 1151.5ZM869 1117.4L872 1113.7V1130.4L869 1133.7ZM872 1096.9L875 1092.3V1109.8L872 1113.7ZM872 1146L875 1142.9V1156.8L872 1159.6ZM872 1159.6L875 1156.8V1170.1L872 1172.6ZM875 1091.8L878 1087V1105.2L875 1109.3ZM875 1109.3L878 1105.2V1123L875 1126.6ZM875 1142.6L878 1139.4V1153.5L875 1156.4ZM878 1262.3L880 1261.1V1278.6L878 1278.6ZM883 1148.5L887 1144.3V1158.6L883 1162.5ZM887 1144.2L889 1142V1156.5L887 1158.5ZM892 1123.3L894 1120.7V1136.7L892 1139.1ZM892 1167.7L894 1165.8V1179.3L892 1181.1ZM912 1112.9L916 1106.7V1125L912 1130.4ZM916 1105.9L918 1102.7V1121.5L916 1124.3ZM920 1100.2L923 1094.9V1114.9L920 1119.4ZM923 1148.7L925 1146.2V1161.6L923 1163.9ZM948 1182.9L951 1179.5V1194.1L948 1197.2ZM953 1205.2L956 1202.1V1216L953 1218.9ZM956 1100.4L960 1092.4V1114.3L956 1121ZM956 1202L960 1197.7V1211.8L956 1215.8ZM963 1076L965 1071.1V1084.6L963 1088.9ZM963 1088.9L965 1084.6V1107.8L963 1111.4ZM963 1149L965 1146.2V1163.1L963 1165.7ZM965 1161.1L968 1157.1V1173.4L965 1177.1ZM965 1206.7L968 1203.5V1217.6L965 1220.6ZM978 1222.2L981 1219.1V1234L978 1236.9ZM987 1227L990 1223.9V1232.4L987 1232.4ZM992 1189.6L995 1185.9V1202.4L992 1205.9ZM995 1096.5L997 1092.1V1108.1L995 1112.1ZM997 1094.2L999 1089.6V1106L997 1110ZM997 1110L999 1106V1127.7L997 1131.2ZM997 1150.4L999 1147.3V1165.2L997 1168ZM1001 1095.2L1004 1088.3V1104.9L1001 1111ZM1001 1111L1004 1104.9V1119.9L1001 1125.4ZM1004 1106.9L1007 1100.5V1116L1004 1121.7ZM1012 1195.2L1014 1192.6V1209.4L1012 1211.8ZM1019 1089.1L1022 1081.6V1099.6L1019 1106.1ZM1022 1088.4L1025 1080.8V1094.6L1022 1101.5ZM1025 1137.6L1027 1134V1155.2L1025 1158.3ZM1025 1158.3L1027 1155.2V1174.6L1025 1177.5ZM1025 1177.5L1027 1174.6V1192.9L1025 1195.5ZM1030 1129.1L1032 1125.3V1147.5L1030 1150.8ZM1032 1152.1L1035 1147.1V1167.5L1032 1172ZM1045 1043.1L1047 1034.8V1055.7L1045 1062.4ZM1055 1173.2L1056 1171.6V1190.3L1055 1190.3ZM1058 1043.8L1060 1035.3V1048L1058 1055.4ZM1062 1070.9L1063 1067.8V1084.8L1062 1087.5ZM1062 1132.6L1063 1130.6V1146.2L1062 1148ZM1066 1177.2L1068 1174V1181.8L1066 1181.8ZM1068 1151.9L1070 1148.3V1169.9L1068 1173.1ZM1077 1025.7L1080 1023.3V1029.7L1077 1043.2ZM1077 1160.5L1080 1155.2V1172.9L1077 1172.9ZM1091 1158L1093 1154.3V1161.9L1091 1161.9ZM1094 1153.4L1096 1149.6V1159.3L1094 1159.3ZM1101 1153.3L1103 1149.5V1153.3L1101 1153.3Z"/><path fill="#1c9bff" d="M226 1067.4L228 1074.6V1089.8L226 1087.2ZM262 1057.5L265 1068.4V1083.6L262 1074ZM281 1070L283 1076.6V1088.3L281 1082.4ZM281 1082.4L283 1088.3V1109.5L281 1104.3ZM294 1041.1L296 1041.1V1046.5L294 1041.1ZM309 1122.4L311 1126.8V1143.3L309 1139.3ZM311 1044.4L313 1044.4V1050.7L311 1044.4ZM322 1076.3L324 1082.1V1102.8L322 1097.8ZM324 1161L326 1164.4V1182.3L324 1181.8ZM360 1126L362 1129.9V1144.8L360 1141.3ZM364 1037.9L366 1045.9V1057L364 1050ZM379 1085.3L381 1090.2V1103L379 1098.6ZM379 1163.2L381 1166.2V1184.6L379 1181.9ZM385 1177.3L387 1180V1197.5L385 1195ZM390 1081.8L393 1089.2V1105.8L390 1099.4ZM396 1075.8L399 1075.8V1086.6L396 1079.2ZM396 1193.8L399 1197.5V1213.8L396 1210.3ZM399 1100.4L403 1108.7V1130L399 1122.9ZM409 1104.4L412 1110.3V1124.5L409 1119.2ZM409 1139.2L412 1143.9V1161.8L409 1157.5ZM412 1126.8L415 1131.8V1150.5L412 1145.9ZM412 1145.9L415 1150.5V1167.8L412 1163.6ZM412 1163.6L415 1167.8V1184L412 1180.2ZM415 1109.4L418 1115.1V1135.2L415 1130.3ZM418 1072.2L420 1077.3V1090.5L418 1086ZM418 1109.7L420 1113.5V1133.7L418 1130.4ZM422 1058.7L425 1067.2V1085.7L422 1078.6ZM425 1142L428 1146.4V1163.5L425 1159.4ZM430 1095.8L432 1099.9V1114.4L430 1110.8ZM434 1086.5L437 1093V1107.9L434 1102.3ZM434 1116.5L437 1121.6V1140.3L434 1135.8ZM440 1084.8L444 1092.1V1113.8L440 1106.6ZM444 1115.8L446 1119.1V1137.8L444 1134.8ZM444 1168.4L446 1170.8V1185.9L444 1183.6ZM446 1117.9L449 1122.8V1141L446 1136.7ZM446 1213.4L449 1216.3V1229.6L446 1226.9ZM449 1141.9L451 1144.7V1161L449 1158.5ZM459 1213.5L462 1216.3V1242L459 1239.5ZM465 1146.4L467 1148.9V1164.6L465 1162.2ZM491 1217L493 1218.6V1242.8L491 1241.4ZM491 1241.4L493 1242.8V1266.1L491 1264.8ZM520 1081.5L523 1086.7V1105L520 1100.7ZM523 1052.7L526 1060V1071.8L523 1065.6ZM529 1159.2L531 1161.1V1174L529 1172.3ZM531 1099.4L533 1102.2V1118.2L531 1115.8ZM539 1155.9L541 1157.6V1182.6L539 1181.1ZM541 1079.6L545 1086V1102.7L541 1097.4ZM545 1054.1L549 1062.9V1073.8L545 1066.4ZM552 1166.5L555 1168.8V1192.3L552 1190.3ZM555 1141.7L559 1145.1V1171.7L555 1168.7ZM562 1041L565 1041V1060.5L562 1054.1ZM581 1161.5L583 1162.8V1186.8L581 1185.7ZM586 1188.4L589 1190V1211.1L586 1209.7ZM589 1190L591 1191V1212L589 1211.1ZM596 1057.3L599 1057.3V1072.8L596 1068.4ZM613 1138.1L618 1140.9V1160.9L613 1158.5ZM613 1158.5L618 1160.9V1180.9L613 1178.8ZM622 1162.7L627 1164.8V1184.3L622 1182.5ZM622 1204L627 1205.7V1225.3L622 1223.8ZM622 1243.3L627 1244.7V1264L622 1262.7ZM636 1045.4L641 1045.4V1109.5L636 1106.7ZM656 1212.9L659 1213.5V1232.4L656 1231.9ZM661 1175L665 1175.8V1194.1L661 1193.4ZM667 1176.2L671 1176.8V1195L667 1194.4ZM671 1195L674 1195.4V1215.6L671 1215.2ZM686 1196.5L690 1196.8V1216.8L686 1216.6ZM690 1178.7L694 1178.9V1196.9L690 1196.8ZM694 1196.9L698 1197V1217L694 1216.9ZM702 1179H704V1197H702ZM704 1086.5L708 1086.5V1124.3L704 1124.4ZM708 1086.2L710 1086.2V1124.1L708 1124.3ZM712 1178.7L715 1178.4V1196.5L712 1196.7ZM723 1080.6L726 1080.6V1121.8L723 1122.4ZM726 1271.7L728 1271.6V1290.2L726 1290.4ZM731 1194.8L733 1194.5V1214.8L731 1215.1ZM769 1245.9L774 1244.6V1263.9L769 1265.1ZM782 1181.1L785 1179.9V1201.7L782 1202.8ZM793 1176.3L795 1175.4V1197.8L793 1198.6ZM795 1297.1L799 1295.9V1298.1L795 1298.1ZM809 1273.1L811 1272.4V1292.2L809 1292.9ZM821 1268.6L826 1266.6V1286.9L821 1288.7ZM826 1181.9L829 1180.1V1202.3L826 1203.9ZM826 1203.9L829 1202.3V1223.8L826 1225.3ZM831 1222.8L836 1220.2V1241.5L831 1243.8ZM836 1059.7L840 1050.9V1091.4L836 1096.5ZM862 1155.2L864 1153.4V1178.9L862 1180.5ZM872 1130.4L875 1127V1142.9L872 1146ZM875 1156.4L878 1153.5V1167.1L875 1169.7ZM875 1194.8L878 1192.5V1216.5L875 1218.6ZM887 1158.5L889 1156.5V1170.2L887 1172ZM889 1156.8L892 1153.7V1167.6L889 1170.4ZM912 1161.4L916 1157V1171.6L912 1175.6ZM912 1189.3L916 1185.5V1211.8L912 1215.2ZM916 1156.4L918 1154.1V1168.9L916 1171ZM925 1148L929 1142.9V1158.7L925 1163.4ZM925 1205.3L929 1201.6V1227.6L925 1230.9ZM929 1142.3L932 1138.4V1154.6L929 1158.2ZM932 1138.2L935 1134.1V1150.7L932 1154.4ZM932 1224.4L935 1221.8V1247L932 1249.4ZM935 1222.7L938 1220V1245.5L935 1247.9ZM935 1247.9L938 1245.5V1257.4L935 1257.4ZM938 1205.7L942 1201.8V1215.4L938 1219ZM942 1125.1L945 1120.5V1138.6L942 1142.7ZM948 1116.1L951 1111.1V1130.3L948 1134.8ZM960 1227.1L963 1224.3V1238.5L960 1241.2ZM963 1165.7L965 1163.1V1178.9L963 1181.3ZM975 1109.3L978 1103.5V1124.7L975 1129.7ZM978 1102.3L981 1096.2V1118.4L978 1123.6ZM978 1176.7L981 1172.9V1188.6L978 1192.2ZM981 1097.6L984 1091.2V1114.2L981 1119.7ZM984 1168.2L987 1164.1V1180.5L984 1184.3ZM984 1215.3L987 1212V1227.3L984 1230.3ZM987 1113.1L990 1107.3V1121.8L987 1127.1ZM987 1163.8L990 1159.6V1176.4L987 1180.2ZM990 1160.3L992 1157.5V1174.5L990 1177.1ZM992 1221.6L995 1218.3V1229.6L992 1229.6ZM999 1073.2L1001 1067.6V1086.9L999 1091.5ZM999 1148.6L1001 1145.5V1163.6L999 1166.5ZM1007 1169L1010 1164.7V1182.9L1007 1186.9ZM1022 1145.3L1025 1140.2V1160.7L1022 1165.3ZM1022 1165.3L1025 1160.7V1179.7L1022 1183.9ZM1027 1134.3L1030 1128.7V1150.5L1027 1155.4ZM1035 1125.7L1037 1121.8V1144.5L1035 1148ZM1058 1107.5L1060 1102.8V1120.6L1058 1124.7ZM1058 1169.2L1060 1166V1185.9L1058 1187.8ZM1058 1187.8L1060 1185.9V1187.8L1058 1187.8ZM1062 1051.6L1063 1047.8V1067.8L1062 1070.9ZM1068 1173.1L1070 1169.9V1180.3L1068 1180.3ZM1070 1150.2L1072 1146.5V1168.4L1070 1171.7ZM1075 1162.4L1077 1158.9V1174.9L1075 1174.9ZM1093 1152.8L1094 1150.9V1160.6L1093 1160.6Z"/><path fill="#3ba7ff" d="M298 1088.1L299 1088.1V1094.2L298 1091.5ZM301 1084.2L304 1092.6V1112.6L301 1105.3ZM304 1071.5L307 1075.3V1089L304 1080.3ZM307 1086.6L309 1092.2V1107.3L307 1102.3ZM307 1102.3L309 1107.3V1125.6L307 1121.1ZM309 1088.3L311 1093.7V1108.7L309 1103.8ZM309 1103.8L311 1108.7V1126.8L309 1122.4ZM311 1098.4L313 1103.5V1117.5L311 1112.9ZM313 1100.7L316 1108.1V1121.8L313 1115ZM353 1040.5L355 1048.4V1066.8L353 1060.4ZM362 1196.5L364 1199.2V1208.8L362 1208.8ZM366 1199.4L369 1203.4V1211.7L366 1211.7ZM383 1063.5L385 1069.5V1088.8L383 1083.9ZM396 1226.2L399 1229.4V1229.4L396 1229.4ZM403 1094.4L406 1100.9V1116L403 1110.3ZM403 1150.6L406 1155.1V1172.3L403 1168.2ZM406 1156L409 1160.3V1177.2L406 1173.2ZM415 1085.5L418 1092.3V1115.1L415 1109.4ZM415 1149.1L418 1153.5V1170.5L415 1166.4ZM415 1166.4L418 1170.5V1186.4L415 1182.7ZM418 1149L420 1152V1169L418 1166.3ZM420 1111.6L422 1115.3V1135.2L420 1132ZM420 1167.5L422 1170.2V1186L420 1183.6ZM422 1078.6L425 1085.7V1101.8L422 1095.7ZM425 1122.9L428 1127.9V1146.4L425 1142ZM432 1152L434 1154.8V1171.1L432 1168.6ZM434 1102.3L437 1107.9V1121.6L434 1116.5ZM440 1161.7L444 1166.8V1182.1L440 1177.4ZM446 1097L449 1102.7V1122.8L446 1117.9ZM453 1178.9L456 1182.2V1196.5L453 1193.4ZM462 1215.5L465 1218.3V1243.7L462 1241.2ZM531 1161L533 1162.8V1175.6L531 1173.9ZM533 1149.8L537 1153.6V1179.1L533 1175.9ZM539 1076.2L541 1079.7V1097.5L539 1094.6ZM541 1157.6L545 1161V1185.5L541 1182.6ZM545 1086L549 1091.9V1107.8L545 1102.8ZM559 1145.1L562 1147.6V1173.7L559 1171.6ZM559 1217.1L562 1218.7V1240.2L559 1238.7ZM565 1150L569 1153.1V1178.4L565 1175.8ZM589 1231.8L591 1232.6V1252.9L589 1252.1ZM589 1292L591 1292.7V1297.4L589 1297.4ZM596 1294.2L599 1295.2V1298.6L596 1298.6ZM607 1176.1L611 1177.9V1200L607 1198.4ZM607 1218.6L611 1220.1V1240L607 1238.6ZM634 1167.4L636 1168.2V1187.3L634 1186.7ZM634 1186.7L636 1187.3V1208.3L634 1207.8ZM644 1189.6L648 1190.6V1211.3L644 1210.4ZM648 1190.6L653 1191.8V1212.3L648 1211.3ZM656 1173.9L659 1174.6V1193.1L656 1192.5ZM667 1075.5L671 1076.5V1121L667 1120ZM667 1194.4L671 1195V1215.2L667 1214.7ZM671 1077.8L674 1078.5V1121.7L671 1121ZM712 1085.2L715 1085.2V1123.6L712 1124ZM715 1084.1L718 1084.1V1123.2L715 1123.6ZM715 1216.6L718 1216.4V1235L715 1235.2ZM726 1215.6L728 1215.4V1234.1L726 1234.4ZM761 1188.4L764 1187.5V1208.5L761 1209.3ZM789 1052.1L793 1052.1V1083.4L789 1087.6ZM795 1277.6L799 1276.4V1295.9L795 1297.1ZM799 1295.9L802 1295V1297.5L799 1297.5ZM818 1139.7L821 1137.4V1160.6L818 1162.6ZM836 1175.5L840 1172.8V1195.8L836 1198.2ZM866 1050.1L869 1050.1V1052.3L866 1059.5ZM866 1151.5L869 1148.7V1174.9L866 1177.3ZM872 1197.4L875 1195.1V1218.9L872 1220.9ZM875 1218.6L878 1216.5V1239.6L875 1241.4ZM878 1192.9L880 1191.4V1215.5L878 1217ZM938 1129.7L942 1123.7V1141.4L938 1146.8ZM981 1204.7L984 1201.3V1216.8L981 1220ZM992 1156.5L995 1152V1169.5L992 1173.5Z"/><path fill="#6abcff" d="M193 1032.7L196 1032.7V1048.1L193 1034.2ZM343 1125.4L345 1129.5V1152.2L343 1148.7ZM399 1161.3L403 1167V1183.6L399 1178.4ZM406 1173.2L409 1177.2V1193.1L406 1189.4ZM428 1163.4L430 1166.1V1181.9L428 1179.5ZM453 1096.8L456 1102.4V1116L453 1110.9ZM459 1101.4L462 1106.7V1125.9L459 1121.3ZM523 1167.1L526 1169.8V1194.9L523 1192.5ZM545 1161L549 1164.2V1188.3L545 1185.5ZM549 1091.9L552 1096.1V1111.3L549 1107.8ZM562 1240.2L565 1241.7V1262.5L562 1261.2ZM599 1172.1L603 1174.1V1196.6L599 1194.9ZM641 1188.8L644 1189.6V1210.4L641 1209.6ZM648 1249.4L653 1250.3V1269.2L648 1268.3ZM683 1178.2L686 1178.5V1196.5L683 1196.3ZM708 1254.1L710 1254V1272.6L708 1272.7ZM726 1078.9L728 1078.4V1121.4L726 1121.8ZM726 1177.3L728 1177V1195.2L726 1195.5ZM726 1195.5L728 1195.2V1215.4L726 1215.6ZM726 1234.4L728 1234.1V1252.9L726 1253ZM728 1195.2L731 1194.8V1215.1L728 1215.4ZM743 1174.3L747 1173.4V1191.9L743 1192.8ZM750 1191.3L752 1190.8V1211.4L750 1211.9ZM757 1189.5L761 1188.4V1209.3L757 1210.3ZM782 1050.4L785 1050.4V1091.4L782 1094.1ZM789 1178.2L793 1176.3V1198.6L789 1200.2ZM809 1168L811 1166.8V1190.3L809 1191.3ZM809 1292.9L811 1292.2V1295.8L809 1295.8ZM811 1292.2L815 1290.9V1295.2L811 1295.2ZM831 1284.9L836 1282.9V1290.9L831 1290.9ZM900 1224.9L904 1221.9V1245.8L900 1248.6ZM910 1149L912 1146.6V1161.7L910 1163.8ZM912 1146.4L916 1141.5V1157L912 1161.4ZM920 1152.5L923 1148.9V1164.1L920 1167.4ZM932 1249.4L935 1247V1258.7L932 1258.7ZM965 1235L968 1232.2V1243.7L965 1243.7ZM981 1173.9L984 1170V1186L981 1189.6ZM987 1195.9L990 1192.3V1208.4L987 1211.8ZM1054 1176.1L1055 1174.5V1191.1L1054 1191.1Z"/><path fill="#a3d6ff" d="M250 1084.2L253 1093.3V1109.6L250 1101.4ZM296 1040.5L298 1041.4V1053.1L296 1045.1ZM351 1045.9L353 1046.4V1065.2L351 1058.7ZM403 1131.4L406 1136.5V1155.1L403 1150.6ZM403 1201.5L406 1205V1220.8L403 1217.5ZM409 1174.5L412 1178.4V1194.1L409 1190.5ZM425 1085.4L428 1092V1107.4L425 1101.6ZM446 1169.9L449 1173.4V1188.3L446 1185ZM449 1088.6L451 1092.7V1107.3L449 1103.7ZM503 1130.8L506 1134.4V1149.6L503 1146.2ZM562 1281.8L565 1283.1V1292.1L562 1292.1ZM599 1194.9L603 1196.6V1217.1L599 1215.5ZM613 1057.4L618 1057.4V1093.6L613 1089ZM613 1178.8L618 1180.9V1202.6L613 1200.8ZM661 1069.7L665 1071.4V1119.4L661 1118.2ZM702 1197H704V1217H702ZM704 1197L708 1196.9V1216.9L704 1217ZM708 1196.9L710 1196.8V1216.8L708 1216.9ZM710 1178.8L712 1178.7V1196.7L710 1196.8ZM712 1291.2L715 1291.1V1306.2L712 1306.2ZM723 1177.7L726 1177.3V1195.5L723 1195.8ZM731 1271.3L733 1271.1V1289.8L731 1290ZM811 1232L815 1230.3V1250.8L811 1252.3ZM826 1157.2L829 1155V1180.1L826 1181.9ZM829 1244.8L831 1243.8V1264.5L829 1265.4ZM916 1140.9L918 1138.4V1154.1L916 1156.4ZM918 1139.2L920 1136.6V1152.6L918 1154.9ZM920 1136.6L923 1132.6V1148.9L920 1152.5ZM965 1220.6L968 1217.6V1232.2L965 1235ZM968 1233.3L972 1229.4V1242L968 1242ZM1019 1168.4L1022 1163.9V1182.6L1019 1186.7Z"/><path fill="#d2ebff" d="M224 1065.1L226 1072.4V1087.5L224 1085.2ZM422 1117.9L425 1123.1V1142.2L422 1137.6ZM434 1153.5L437 1157.5V1173.6L434 1169.9ZM434 1169.9L437 1173.6V1188.9L434 1185.4ZM465 1218.4L467 1220.1V1245.4L465 1243.8ZM503 1225.1L506 1227.4V1250.7L503 1248.7ZM618 1180.9L622 1182.5V1204L618 1202.6ZM622 1182.5L627 1184.3V1205.7L622 1204ZM661 1193.4L665 1194.1V1214.4L661 1213.8ZM678 1195.9L683 1196.3V1216.4L678 1216ZM704 1179L708 1178.8V1196.9L704 1197ZM715 1178.4L718 1178.2V1196.3L715 1196.5ZM715 1196.5L718 1196.3V1216.4L715 1216.6ZM777 1224.3L782 1222.7V1242.3L777 1243.8ZM789 1279.3L793 1278.2V1297.6L789 1298.7ZM811 1252.3L815 1250.8V1270.9L811 1272.4ZM821 1288.7L826 1286.9V1293.1L821 1293.1ZM826 1246.1L829 1244.8V1265.4L826 1266.6ZM826 1266.6L829 1265.4V1285.7L826 1286.9ZM829 1180.1L831 1178.8V1201.2L829 1202.3ZM866 1120.7L869 1117.1V1133.4L866 1136.6ZM875 1263.6L878 1261.9V1279.3L875 1279.3ZM878 1217L880 1215.5V1238.7L878 1240ZM923 1132.3L925 1129.6V1146.2L923 1148.7ZM963 1196.2L965 1194V1208.4L963 1210.4ZM963 1224.2L965 1222.3V1236.6L963 1238.5ZM972 1185.7L975 1182.1V1197.2L972 1200.6ZM975 1226L978 1223V1237.6L975 1238.7ZM997 1184.6L999 1182V1198.9L997 1201.3ZM1014 1175.3L1016 1172.5V1190.5L1014 1193.1Z"/></g>
<g fill="none" stroke="#fff" stroke-width="3.5" stroke-dasharray="3.5 7.56"><circle cx="695.7" cy="692.2" r="159.7"/><circle cx="695.7" cy="692.2" r="318.0"/><circle cx="695.7" cy="692.2" r="471.3"/><circle cx="695.7" cy="692.2" r="615.3"/><circle cx="695.7" cy="692.2" r="23.5" stroke-dasharray="3.2 2.95"/><path d="M695.7 659.8L695.7 76.9"/><path d="M704.1 660.9L855.0 97.9"/><path d="M711.9 664.1L1003.3 159.3"/><path d="M718.6 669.3L1130.8 257.1"/><path d="M723.8 676.0L1228.6 384.6"/><path d="M727.0 683.8L1290.0 532.9"/><path d="M728.2 692.2L1311.0 692.2"/><path d="M727.0 700.6L1290.0 851.5"/><path d="M723.8 708.4L1228.6 999.8"/><path d="M718.6 715.1L1130.8 1127.3"/><path d="M711.9 720.3L1003.3 1225.1"/><path d="M704.1 723.5L855.0 1286.5"/><path d="M695.7 724.7L695.7 1307.5"/><path d="M687.3 723.5L536.4 1286.5"/><path d="M679.5 720.3L388.1 1225.1"/><path d="M672.8 715.1L260.6 1127.3"/><path d="M667.6 708.4L162.8 999.9"/><path d="M664.4 700.6L101.4 851.5"/><path d="M663.2 692.2L80.4 692.2"/><path d="M664.4 683.8L101.4 532.9"/><path d="M667.6 676.0L162.8 384.6"/><path d="M672.8 669.3L260.6 257.1"/><path d="M679.5 664.1L388.0 159.3"/><path d="M687.3 660.9L536.4 97.9"/></g>
<circle cx="695.7" cy="692.2" r="12.4" fill="none" stroke="#fff" stroke-width="3.4"/>
<circle cx="695.7" cy="692.2" r="3.4" fill="#fff"/>
<rect x="693.4" y="692.5" width="4.4" height="616.8" fill="#d8400e"/>
<text x="694" y="55.3" font-size="50" text-anchor="middle" fill="#000">24:00</text>
<text x="694.5" y="1361.5" font-size="50" text-anchor="middle" fill="#000">12:00</text>
<text transform="translate(57.1 692.5) rotate(-90)" font-size="50" text-anchor="middle" fill="#000">06:00</text>
<text transform="translate(1329.6 687.7) rotate(90)" font-size="50" text-anchor="middle" fill="#000">18:00</text>
<text x="857.5" y="958.5" font-size="37" fill="#fff">-70<tspan font-size="28.5" dy="-5.7" dx="-1.8">°</tspan></text>
<text x="1038.3" y="1196.8" font-size="37" fill="#fff">-50<tspan font-size="28.5" dy="-5.7" dx="-1.8">°</tspan></text>
<rect x="1338.5" y="1000.4" width="47" height="307.5" fill="url(#cb)" stroke="#000" stroke-width="2"/>
<g stroke="#000" stroke-width="1.6"><path d="M1339 1244.4h2.5M1385 1244.4h-2.5"/><path d="M1339 1207.8h2.5M1385 1207.8h-2.5"/><path d="M1339 1181.8h2.5M1385 1181.8h-2.5"/><path d="M1339 1161.6h2.5M1385 1161.6h-2.5"/><path d="M1339 1145.1h2.5M1385 1145.1h-2.5"/><path d="M1339 1131.2h2.5M1385 1131.2h-2.5"/><path d="M1339 1119.2h2.5M1385 1119.2h-2.5"/><path d="M1339 1108.5h2.5M1385 1108.5h-2.5"/><path d="M1339 1036.4h2.5M1385 1036.4h-2.5"/><path d="M1339 1099.0h5M1385 1099.0h-5"/><path d="M1340.8 1001v2.5"/><path d="M1343.2 1001v2.5"/><path d="M1345.5 1001v2.5"/><path d="M1347.9 1001v5"/><path d="M1350.2 1001v2.5"/><path d="M1352.6 1001v2.5"/><path d="M1355.0 1001v2.5"/><path d="M1357.3 1001v5"/><path d="M1359.7 1001v2.5"/><path d="M1362.0 1001v2.5"/><path d="M1364.3 1001v2.5"/><path d="M1366.7 1001v5"/><path d="M1369.0 1001v2.5"/><path d="M1371.4 1001v2.5"/><path d="M1373.8 1001v2.5"/><path d="M1376.1 1001v5"/><path d="M1378.5 1001v2.5"/><path d="M1380.8 1001v2.5"/><path d="M1383.2 1001v2.5"/></g>
<text x="1316" y="984.5" font-size="37" fill="#000">kR H<tspan font-size="15" dy="5.3">2</tspan></text>
<text x="1394.5" y="1109.7" font-size="31.5" fill="#000">10</text>
<text x="1394.5" y="1307.8" font-size="31" fill="#000">1</text>
</svg></body></html>
